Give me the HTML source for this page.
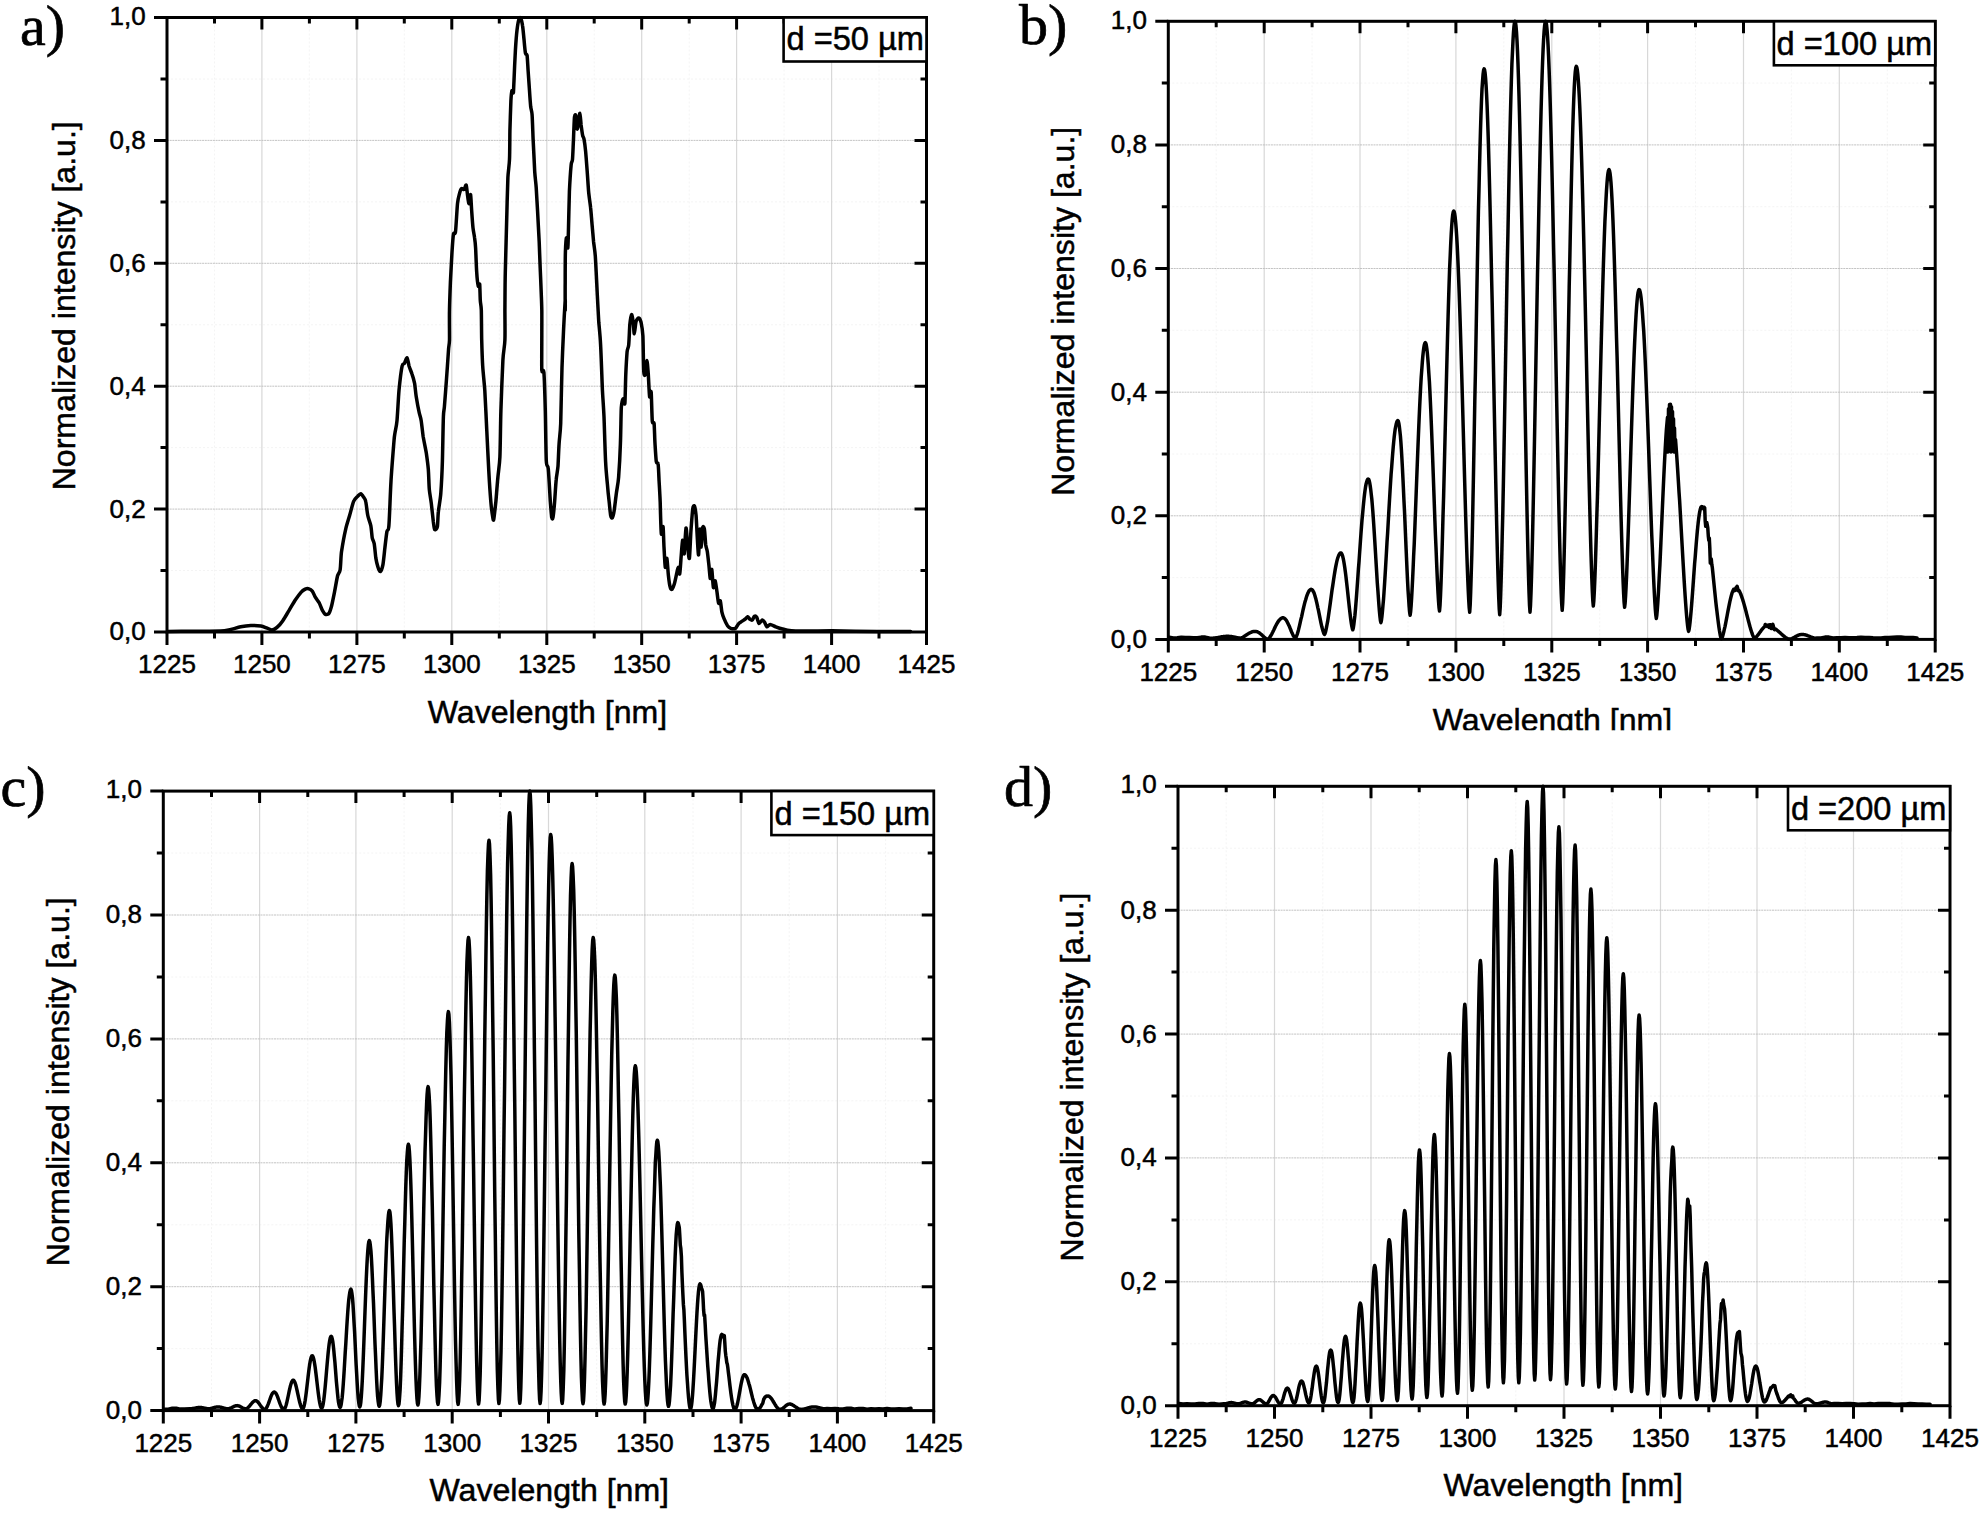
<!DOCTYPE html>
<html lang="en"><head><meta charset="utf-8"><title>Normalized intensity spectra</title>
<style>html,body{margin:0;padding:0;background:#fff}body{width:1983px;height:1514px;overflow:hidden}svg{display:block}</style>
</head><body>
<svg width="1983" height="1514" viewBox="0 0 1983 1514">
<rect width="1983" height="1514" fill="#fff"/>
<defs><clipPath id="clipb"><rect x="1000" y="690" width="983" height="40.2"/></clipPath></defs>
<g id="panel-a">
<path d="M214.5 17.5V632.0M309.4 17.5V632.0M404.3 17.5V632.0M499.3 17.5V632.0M594.2 17.5V632.0M689.2 17.5V632.0M784.1 17.5V632.0M879.0 17.5V632.0M167.0 570.5H926.5M167.0 447.6H926.5M167.0 324.8H926.5M167.0 201.9H926.5M167.0 79.0H926.5" stroke="#f3f3f3" stroke-width="0.9" stroke-dasharray="2 2" fill="none"/>
<path d="M261.9 17.5V632.0M356.9 17.5V632.0M451.8 17.5V632.0M546.8 17.5V632.0M641.7 17.5V632.0M736.6 17.5V632.0M831.6 17.5V632.0" stroke="#d8d8d8" stroke-width="1.2" fill="none"/>
<path d="M167.0 509.1H926.5M167.0 386.2H926.5M167.0 263.3H926.5M167.0 140.4H926.5" stroke="#bcbcbc" stroke-width="0.9" stroke-dasharray="2 0.7" fill="none"/>
<path d="M168.1 631.5C171.0 631.5 183.4 631.3 190.3 631.3C197.1 631.2 215.3 631.3 220.5 631.1C225.8 630.8 228.0 630.0 230.6 629.5C233.2 628.9 238.1 627.3 240.7 626.8C243.3 626.3 248.1 625.7 250.8 625.6C253.4 625.5 258.8 625.7 260.9 626.0C263.0 626.3 265.5 627.5 266.9 628.0C268.4 628.6 270.6 630.1 272.0 630.1C273.3 630.0 275.6 628.7 277.0 627.4C278.4 626.2 281.5 622.6 283.0 620.4C284.6 618.2 287.5 612.9 289.1 610.3C290.7 607.7 293.6 602.6 295.1 600.2C296.7 597.9 299.9 593.6 301.2 592.1C302.5 590.7 304.3 589.6 305.2 589.1C306.2 588.7 307.3 588.5 308.3 588.7C309.2 589.0 311.4 590.0 312.3 591.1C313.2 592.2 314.4 595.6 315.3 597.2C316.2 598.8 318.4 601.5 319.4 603.2C320.3 604.9 321.6 608.9 322.4 610.3C323.2 611.7 324.5 613.9 325.4 614.3C326.3 614.7 328.3 614.4 329.0 613.3C329.8 612.3 330.7 609.0 331.5 606.3C332.2 603.5 333.7 596.1 334.5 592.1C335.3 588.2 336.8 578.9 337.5 576.0C338.2 573.1 339.6 573.1 340.1 570.0C340.7 566.8 340.8 557.0 341.5 551.8C342.3 546.6 344.5 534.3 345.6 529.6C346.6 524.9 348.6 519.2 349.6 515.5C350.7 511.8 352.6 503.9 353.6 501.4C354.7 498.9 356.8 497.3 357.7 496.3C358.6 495.3 359.9 493.6 360.7 493.7C361.5 493.8 363.1 496.3 363.7 497.3C364.4 498.3 365.2 499.0 365.7 501.4C366.3 503.7 367.1 512.3 367.8 515.5C368.4 518.6 370.2 522.7 370.8 525.6C371.4 528.5 371.8 535.3 372.2 537.7C372.6 540.0 373.7 541.1 374.2 543.7C374.7 546.4 375.4 554.8 375.8 557.9C376.3 560.9 377.3 565.1 377.9 566.9C378.4 568.7 379.6 571.8 380.3 571.6C380.9 571.3 382.3 568.0 382.9 564.9C383.5 561.8 384.4 552.1 384.9 547.8C385.4 543.4 386.4 534.5 386.9 531.6C387.5 528.7 388.4 532.1 388.9 525.6C389.5 519.0 390.3 492.2 391.0 481.2C391.6 470.2 393.5 447.2 394.0 440.9C394.5 434.6 394.6 435.4 395.0 432.8C395.4 430.2 396.5 426.2 397.0 420.7C397.5 415.2 398.4 397.5 399.0 390.4C399.7 383.3 401.3 369.8 402.1 366.2C402.8 362.7 403.8 364.3 404.5 363.2C405.1 362.1 406.5 357.4 407.1 357.8C407.7 358.1 408.5 364.1 409.1 366.2C409.8 368.4 411.4 372.1 412.1 374.3C412.9 376.5 414.0 380.5 414.6 383.4C415.1 386.3 415.6 392.7 416.2 396.5C416.8 400.3 418.5 409.5 419.2 412.6C419.9 415.8 420.7 417.5 421.2 420.7C421.7 423.8 422.6 432.6 423.2 436.8C423.9 441.0 425.6 448.8 426.3 453.0C426.9 457.2 427.9 464.4 428.3 469.1C428.7 473.8 428.9 484.8 429.3 489.3C429.7 493.7 430.8 499.2 431.3 503.4C431.8 507.6 432.9 518.1 433.3 521.5C433.8 525.0 434.2 529.0 434.7 529.6C435.3 530.3 436.9 528.9 437.4 526.6C437.8 524.2 437.9 515.8 438.4 511.5C438.8 507.1 440.3 499.9 440.8 493.3C441.3 486.7 442.1 471.0 442.4 461.0C442.7 451.1 443.1 423.7 443.4 416.7C443.7 409.6 444.0 411.3 444.4 406.6C444.8 401.8 445.9 387.7 446.4 380.3C447.0 373.0 448.1 355.3 448.5 350.1C448.8 344.8 449.3 345.2 449.5 340.0C449.6 334.8 449.3 317.4 449.5 309.9C449.6 302.5 450.1 289.8 450.4 282.3C450.8 274.8 451.6 258.4 452.0 252.1C452.4 245.8 453.0 236.5 453.5 233.9C453.9 231.3 454.9 235.8 455.5 231.9C456.0 228.0 457.0 208.6 457.5 203.6C458.0 198.7 459.0 195.5 459.5 193.6C460.0 191.6 460.9 189.0 461.5 188.5C462.1 188.0 463.5 190.0 464.1 189.5C464.7 189.1 465.7 184.3 466.2 185.1C466.6 185.9 467.2 193.2 467.6 195.6C467.9 198.0 468.6 203.8 469.0 203.6C469.4 203.5 470.3 193.8 470.6 194.6C470.9 195.4 471.3 205.4 471.6 209.7C471.9 214.0 472.6 224.2 473.0 227.9C473.4 231.5 474.3 235.3 474.6 237.9C475.0 240.6 475.4 243.6 475.6 248.0C475.9 252.5 476.3 267.2 476.7 272.2C477.0 277.2 477.9 284.8 478.3 286.3C478.7 287.9 479.4 282.5 479.7 284.3C479.9 286.2 480.1 297.1 480.3 300.5C480.5 303.8 481.1 304.8 481.3 309.9C481.5 315.1 481.5 332.7 481.7 340.0C481.9 347.3 482.3 359.7 482.7 366.2C483.1 372.8 484.2 382.0 484.8 390.4C485.3 398.8 486.3 420.3 486.8 430.8C487.3 441.3 488.3 461.9 488.8 471.1C489.3 480.3 490.3 495.3 490.8 501.4C491.3 507.4 492.4 515.2 492.8 517.5C493.2 519.8 493.4 521.2 493.8 519.1C494.2 517.0 495.3 506.8 495.9 501.4C496.4 495.9 497.3 482.9 497.9 477.2C498.4 471.4 499.5 465.6 499.9 457.0C500.3 448.3 500.5 423.2 500.9 410.6C501.3 398.0 502.4 369.3 502.9 360.2C503.4 351.0 504.7 346.5 504.9 340.0C505.2 333.5 504.9 318.8 504.9 309.9C505.0 301.1 505.0 285.0 505.3 272.2C505.6 259.5 506.6 224.0 506.9 211.7C507.2 199.4 507.6 184.2 507.9 177.4C508.3 170.6 509.3 165.3 509.5 159.3C509.8 153.2 509.8 138.6 509.9 131.0C510.1 123.4 510.7 106.0 510.9 100.8C511.2 95.5 511.6 91.7 512.0 90.7C512.3 89.6 513.1 94.0 513.4 92.7C513.6 91.4 513.7 86.1 514.0 80.6C514.2 75.1 515.0 56.9 515.4 50.3C515.8 43.8 516.5 34.2 517.0 30.2C517.5 26.1 518.5 20.7 519.0 19.1C519.5 17.5 520.2 17.2 520.6 18.1C521.1 19.0 522.2 23.3 522.6 26.1C523.1 29.0 523.7 36.7 524.1 40.3C524.4 43.8 525.1 51.4 525.5 53.4C525.9 55.3 526.7 53.2 527.1 55.4C527.4 57.6 527.8 65.9 528.1 70.5C528.4 75.1 529.2 86.0 529.5 90.7C529.8 95.4 530.4 103.7 530.7 106.8C531.1 110.0 531.8 110.7 532.1 114.9C532.4 119.1 532.8 131.8 533.1 139.1C533.5 146.4 534.4 165.1 534.7 171.4C535.1 177.7 535.8 182.3 536.2 187.5C536.5 192.8 537.2 204.6 537.6 211.7C538.0 218.8 538.8 234.6 539.2 242.0C539.5 249.3 539.9 261.6 540.2 268.2C540.5 274.8 541.0 287.0 541.2 292.4C541.4 297.8 541.7 303.8 541.8 309.9C541.9 316.1 541.8 332.2 541.8 340.0C541.8 347.8 541.6 366.1 541.8 370.3C542.1 374.5 543.4 367.0 543.9 372.3C544.3 377.5 545.0 399.1 545.3 410.6C545.6 422.1 545.9 453.4 546.3 461.0C546.7 468.6 547.8 463.9 548.3 469.1C548.8 474.3 549.9 495.1 550.3 501.4C550.8 507.7 551.4 515.4 551.7 517.5C552.1 519.6 552.7 519.4 553.0 517.4C553.4 515.4 554.2 507.0 554.6 502.1C555.0 497.2 555.7 484.3 556.2 479.7C556.6 475.0 557.6 470.9 558.0 466.2C558.3 461.5 558.7 449.3 559.1 443.7C559.4 438.2 560.3 433.5 560.7 423.5C561.0 413.6 561.6 379.6 562.0 367.4C562.4 355.1 563.2 338.0 563.6 329.2C564.0 320.4 565.0 302.5 565.2 300.0C565.4 297.5 565.2 312.2 565.2 309.9C565.2 307.7 565.1 289.8 565.2 282.3C565.2 274.8 565.2 257.8 565.4 252.1C565.6 246.3 566.1 238.5 566.4 237.9C566.7 237.4 567.6 248.8 567.8 248.0C568.1 247.2 568.2 239.2 568.4 231.9C568.6 224.5 569.1 200.2 569.4 191.5C569.8 182.9 570.7 169.5 571.1 165.3C571.4 161.1 572.2 162.7 572.5 159.3C572.8 155.9 573.2 144.6 573.5 139.1C573.7 133.6 574.2 119.9 574.5 116.9C574.8 113.9 575.6 114.3 575.9 115.9C576.2 117.5 576.8 128.1 577.1 129.0C577.4 129.9 578.2 125.0 578.5 123.0C578.9 120.9 579.6 113.0 579.9 113.3C580.3 113.5 580.8 122.1 581.1 125.0C581.5 127.8 582.2 133.2 582.6 135.1C582.9 136.9 583.6 137.0 584.0 139.1C584.4 141.2 585.2 147.0 585.6 151.2C586.0 155.4 586.8 166.1 587.2 171.4C587.6 176.6 588.2 186.8 588.6 191.5C589.0 196.3 590.2 203.5 590.6 207.7C591.1 211.9 591.6 219.4 592.0 223.8C592.4 228.3 593.2 237.8 593.6 242.0C594.1 246.2 594.9 250.8 595.3 256.1C595.7 261.3 596.3 275.3 596.7 282.3C597.0 289.3 597.8 304.7 598.1 309.9C598.4 315.2 598.5 317.9 598.8 322.5C599.2 327.0 600.2 336.2 600.6 344.9C601.1 353.7 602.0 380.5 602.4 389.8C602.9 399.2 603.6 407.4 604.0 416.8C604.4 426.1 605.1 452.9 605.6 461.7C606.0 470.5 606.9 478.9 607.4 484.2C607.8 489.4 608.7 498.0 609.2 502.1C609.6 506.2 610.3 513.6 610.7 515.6C611.2 517.7 611.9 518.4 612.3 517.9C612.8 517.3 613.6 514.3 614.1 511.1C614.6 507.9 615.8 497.5 616.4 493.1C616.9 488.8 618.1 483.9 618.6 477.4C619.1 471.0 620.1 452.8 620.4 443.7C620.8 434.7 621.0 413.6 621.3 407.8C621.7 402.0 622.6 399.4 623.1 398.8C623.6 398.2 624.5 406.5 624.9 403.3C625.2 400.1 625.5 380.8 625.8 374.1C626.1 367.4 626.8 355.5 627.1 351.7C627.5 347.9 628.4 348.4 628.7 344.9C629.1 341.4 629.5 328.6 629.8 324.7C630.2 320.8 631.2 314.9 631.6 314.6C632.1 314.3 632.9 320.0 633.2 322.5C633.6 324.9 633.9 333.8 634.3 333.7C634.7 333.5 635.5 323.4 636.1 321.3C636.7 319.3 638.2 317.8 638.8 318.0C639.5 318.1 640.5 320.1 641.1 322.5C641.6 324.8 642.5 329.5 642.9 335.9C643.2 342.4 643.4 366.9 643.8 371.9C644.1 376.8 645.1 375.6 645.6 374.1C646.0 372.7 646.6 360.6 646.9 360.6C647.3 360.6 647.9 369.4 648.3 374.1C648.6 378.8 649.2 394.2 649.6 396.6C650.0 398.9 650.8 388.9 651.2 392.1C651.5 395.3 651.9 417.2 652.3 421.3C652.7 425.4 653.7 420.6 654.1 423.5C654.4 426.4 654.7 438.8 655.0 443.7C655.3 448.7 655.9 459.1 656.3 461.7C656.7 464.3 657.8 461.6 658.1 464.0C658.5 466.3 658.8 474.7 659.0 479.7C659.3 484.6 659.9 495.1 660.2 502.1C660.4 509.1 660.9 530.4 661.3 533.6C661.7 536.8 662.7 525.1 663.1 526.8C663.4 528.6 663.7 541.8 664.0 547.1C664.3 552.3 664.9 565.8 665.3 567.3C665.7 568.7 666.5 557.1 666.9 558.3C667.3 559.4 668.0 572.5 668.5 576.2C668.9 580.0 669.8 585.8 670.3 587.5C670.7 589.2 671.5 589.7 672.1 589.3C672.6 588.8 673.7 586.1 674.3 584.1C674.9 582.1 676.1 576.2 676.6 574.0C677.0 571.8 677.7 567.3 678.1 567.3C678.5 567.3 679.3 575.2 679.7 574.0C680.1 572.8 680.7 562.7 681.0 558.3C681.4 553.9 682.2 540.9 682.6 540.3C683.0 539.7 683.8 555.4 684.2 553.8C684.6 552.2 685.5 528.8 686.0 528.0C686.5 527.1 687.3 543.1 687.8 547.1C688.2 551.0 688.9 560.3 689.4 558.3C689.8 556.2 690.5 537.8 690.9 531.3C691.4 524.9 692.3 512.1 692.7 508.9C693.2 505.6 694.1 505.3 694.5 506.2C695.0 507.1 695.7 511.8 696.1 515.6C696.4 519.5 696.9 530.7 697.2 535.8C697.5 540.9 698.2 555.8 698.6 554.9C698.9 554.0 699.6 530.1 699.9 529.1C700.3 528.1 700.9 547.2 701.3 547.1C701.6 546.9 702.2 530.3 702.6 528.0C703.0 525.6 704.0 526.9 704.4 529.1C704.8 531.3 705.4 541.9 705.7 544.8C706.1 547.7 706.9 548.9 707.3 551.5C707.7 554.2 708.5 561.5 708.9 565.0C709.3 568.5 709.9 577.9 710.2 578.5C710.6 579.1 711.4 568.3 711.8 569.5C712.2 570.7 712.9 586.0 713.4 587.5C713.8 588.9 714.7 580.2 715.2 580.7C715.6 581.3 716.5 589.1 717.0 592.0C717.4 594.9 718.1 602.0 718.6 603.2C719.0 604.4 719.9 599.8 720.3 601.0C720.8 602.1 721.4 609.8 721.9 612.2C722.4 614.5 723.4 617.2 724.2 618.9C724.9 620.7 726.7 624.4 727.5 625.7C728.4 626.9 729.9 628.0 730.9 628.4C731.9 628.7 734.4 629.0 735.4 628.4C736.4 627.7 737.9 624.3 738.8 623.4C739.6 622.5 741.3 621.8 742.1 621.2C743.0 620.6 744.8 619.5 745.5 618.9C746.2 618.3 747.2 616.6 747.7 616.7C748.3 616.7 749.4 618.9 750.0 619.4C750.6 619.8 751.7 620.5 752.2 620.0C752.8 619.6 753.9 616.6 754.5 616.2C755.1 615.8 756.1 616.2 756.7 617.1C757.3 618.1 758.2 623.0 759.0 623.4C759.7 623.8 761.6 620.2 762.3 620.0C763.1 619.9 764.0 621.4 764.6 622.3C765.2 623.2 766.1 626.5 766.8 626.8C767.6 627.1 769.0 624.5 770.2 624.5C771.4 624.5 774.2 626.2 775.8 626.8C777.4 627.4 780.5 628.5 782.6 629.0C784.6 629.6 788.0 630.6 791.5 630.8C795.0 631.1 804.3 631.0 809.5 631.0C814.8 631.0 823.2 630.8 832.0 630.8C840.7 630.9 866.7 631.4 876.9 631.5C887.1 631.6 906.2 631.5 910.6 631.5" stroke="#000" stroke-width="3.5" fill="none" stroke-linejoin="round" stroke-linecap="round"/>
<rect x="167.0" y="17.5" width="759.5" height="614.5" fill="none" stroke="#000" stroke-width="3"/>
<path d="M167.0 632.0v13.0M214.5 632.0v6.5M214.5 17.5v6.0M261.9 632.0v13.0M261.9 17.5v12.0M309.4 632.0v6.5M309.4 17.5v6.0M356.9 632.0v13.0M356.9 17.5v12.0M404.3 632.0v6.5M404.3 17.5v6.0M451.8 632.0v13.0M451.8 17.5v12.0M499.3 632.0v6.5M499.3 17.5v6.0M546.8 632.0v13.0M546.8 17.5v12.0M594.2 632.0v6.5M594.2 17.5v6.0M641.7 632.0v13.0M641.7 17.5v12.0M689.2 632.0v6.5M689.2 17.5v6.0M736.6 632.0v13.0M736.6 17.5v12.0M784.1 632.0v6.5M784.1 17.5v6.0M831.6 632.0v13.0M831.6 17.5v12.0M879.0 632.0v6.5M879.0 17.5v6.0M926.5 632.0v13.0M167.0 632.0h-13.0M167.0 570.5h-6.5M926.5 570.5h-6.0M167.0 509.1h-13.0M926.5 509.1h-12.0M167.0 447.6h-6.5M926.5 447.6h-6.0M167.0 386.2h-13.0M926.5 386.2h-12.0M167.0 324.8h-6.5M926.5 324.8h-6.0M167.0 263.3h-13.0M926.5 263.3h-12.0M167.0 201.9h-6.5M926.5 201.9h-6.0M167.0 140.4h-13.0M926.5 140.4h-12.0M167.0 79.0h-6.5M926.5 79.0h-6.0M167.0 17.5h-13.0" stroke="#000" stroke-width="3" fill="none"/>
<text x="167.0" y="673.3" font-family="Liberation Sans, Arial, sans-serif" stroke="#000" stroke-width="0.5" font-size="26.0" text-anchor="middle" fill="#000">1225</text>
<text x="261.9" y="673.3" font-family="Liberation Sans, Arial, sans-serif" stroke="#000" stroke-width="0.5" font-size="26.0" text-anchor="middle" fill="#000">1250</text>
<text x="356.9" y="673.3" font-family="Liberation Sans, Arial, sans-serif" stroke="#000" stroke-width="0.5" font-size="26.0" text-anchor="middle" fill="#000">1275</text>
<text x="451.8" y="673.3" font-family="Liberation Sans, Arial, sans-serif" stroke="#000" stroke-width="0.5" font-size="26.0" text-anchor="middle" fill="#000">1300</text>
<text x="546.8" y="673.3" font-family="Liberation Sans, Arial, sans-serif" stroke="#000" stroke-width="0.5" font-size="26.0" text-anchor="middle" fill="#000">1325</text>
<text x="641.7" y="673.3" font-family="Liberation Sans, Arial, sans-serif" stroke="#000" stroke-width="0.5" font-size="26.0" text-anchor="middle" fill="#000">1350</text>
<text x="736.6" y="673.3" font-family="Liberation Sans, Arial, sans-serif" stroke="#000" stroke-width="0.5" font-size="26.0" text-anchor="middle" fill="#000">1375</text>
<text x="831.6" y="673.3" font-family="Liberation Sans, Arial, sans-serif" stroke="#000" stroke-width="0.5" font-size="26.0" text-anchor="middle" fill="#000">1400</text>
<text x="926.5" y="673.3" font-family="Liberation Sans, Arial, sans-serif" stroke="#000" stroke-width="0.5" font-size="26.0" text-anchor="middle" fill="#000">1425</text>
<text x="145.7" y="640.4" font-family="Liberation Sans, Arial, sans-serif" stroke="#000" stroke-width="0.5" font-size="26.0" text-anchor="end" fill="#000">0,0</text>
<text x="145.7" y="517.5" font-family="Liberation Sans, Arial, sans-serif" stroke="#000" stroke-width="0.5" font-size="26.0" text-anchor="end" fill="#000">0,2</text>
<text x="145.7" y="394.6" font-family="Liberation Sans, Arial, sans-serif" stroke="#000" stroke-width="0.5" font-size="26.0" text-anchor="end" fill="#000">0,4</text>
<text x="145.7" y="271.7" font-family="Liberation Sans, Arial, sans-serif" stroke="#000" stroke-width="0.5" font-size="26.0" text-anchor="end" fill="#000">0,6</text>
<text x="145.7" y="148.8" font-family="Liberation Sans, Arial, sans-serif" stroke="#000" stroke-width="0.5" font-size="26.0" text-anchor="end" fill="#000">0,8</text>
<text x="145.7" y="25.1" font-family="Liberation Sans, Arial, sans-serif" stroke="#000" stroke-width="0.5" font-size="26.0" text-anchor="end" fill="#000">1,0</text>
<text x="547.5" y="722.5" font-family="Liberation Sans, Arial, sans-serif" stroke="#000" stroke-width="0.5" font-size="32.1" text-anchor="middle" fill="#000">Wavelength [nm]</text>
<text transform="translate(74.5 305.8) rotate(-90)" font-family="Liberation Sans, Arial, sans-serif" stroke="#000" stroke-width="0.5" font-size="32.1" text-anchor="middle" fill="#000">Normalized intensity [a.u.]</text>
<rect x="783.6" y="17.5" width="142.9" height="44.0" fill="#fff" stroke="#000" stroke-width="2.6"/>
<text x="923.9" y="49.9" font-family="Liberation Sans, Arial, sans-serif" stroke="#000" stroke-width="0.5" font-size="32.6" text-anchor="end" fill="#000">d =50 µm</text>
<text x="20.0" y="45.0" font-family="Liberation Serif, Times New Roman, serif" stroke="#000" stroke-width="0.7" stroke-linejoin="round" font-size="58" fill="#000">a)</text>
</g>
<g id="panel-b">
<path d="M1216.2 21.3V639.4M1312.1 21.3V639.4M1408.0 21.3V639.4M1503.8 21.3V639.4M1599.7 21.3V639.4M1695.5 21.3V639.4M1791.4 21.3V639.4M1887.3 21.3V639.4M1168.3 577.6H1935.2M1168.3 454.0H1935.2M1168.3 330.3H1935.2M1168.3 206.7H1935.2M1168.3 83.1H1935.2" stroke="#f3f3f3" stroke-width="0.9" stroke-dasharray="2 2" fill="none"/>
<path d="M1264.2 21.3V639.4M1360.0 21.3V639.4M1455.9 21.3V639.4M1551.8 21.3V639.4M1647.6 21.3V639.4M1743.5 21.3V639.4M1839.3 21.3V639.4" stroke="#d8d8d8" stroke-width="1.2" fill="none"/>
<path d="M1168.3 515.8H1935.2M1168.3 392.2H1935.2M1168.3 268.5H1935.2M1168.3 144.9H1935.2" stroke="#bcbcbc" stroke-width="0.9" stroke-dasharray="2 0.7" fill="none"/>
<path d="M1169.3 637.2 L1173.3 637.9 L1177.3 637.8 L1181.3 637.3 L1185.3 637.5 L1189.3 637.5 L1193.3 637.7 L1197.3 637.8 L1201.3 637.1 L1205.3 637.1 L1209.3 637.9 L1213.0 638.2 L1213.5 638.1 L1214.0 638.1 L1214.5 638.0 L1215.0 638.0 L1215.5 637.9 L1216.0 637.8 L1216.5 637.7 L1217.1 637.7 L1217.6 637.6 L1218.1 637.5 L1218.6 637.4 L1219.1 637.3 L1219.6 637.2 L1220.1 637.1 L1220.6 637.0 L1221.1 636.9 L1221.6 636.8 L1222.1 636.8 L1222.6 636.7 L1223.1 636.6 L1223.6 636.6 L1224.2 636.5 L1224.7 636.5 L1225.2 636.4 L1225.7 636.4 L1226.2 636.3 L1226.7 636.3 L1227.2 636.3 L1227.7 636.3 L1228.2 636.3 L1228.7 636.3 L1229.2 636.4 L1229.7 636.4 L1230.2 636.4 L1230.7 636.5 L1231.2 636.6 L1231.7 636.6 L1232.2 636.7 L1232.7 636.8 L1233.2 636.9 L1233.7 637.0 L1234.3 637.1 L1234.8 637.2 L1235.3 637.3 L1235.8 637.4 L1236.3 637.5 L1236.8 637.6 L1237.3 637.7 L1237.8 637.8 L1238.3 637.9 L1238.8 638.0 L1239.3 638.1 L1239.8 638.1 L1240.3 638.2 L1240.8 638.1 L1241.3 637.9 L1241.8 637.7 L1242.3 637.5 L1242.9 637.2 L1243.4 636.9 L1243.9 636.6 L1244.4 636.3 L1244.9 636.0 L1245.4 635.6 L1245.9 635.3 L1246.4 635.0 L1246.9 634.6 L1247.4 634.3 L1248.0 634.0 L1248.5 633.6 L1249.0 633.3 L1249.5 633.0 L1250.0 632.8 L1250.5 632.5 L1251.0 632.3 L1251.5 632.1 L1252.0 631.9 L1252.5 631.7 L1253.1 631.6 L1253.6 631.5 L1254.1 631.4 L1254.6 631.4 L1255.1 631.4 L1255.6 631.4 L1256.1 631.5 L1256.6 631.6 L1257.1 631.7 L1257.6 631.9 L1258.1 632.2 L1258.7 632.5 L1259.2 632.8 L1259.7 633.2 L1260.2 633.6 L1260.7 634.0 L1261.2 634.4 L1261.7 634.8 L1262.2 635.3 L1262.7 635.8 L1263.2 636.2 L1263.7 636.7 L1264.2 637.2 L1264.8 637.6 L1265.3 638.0 L1265.8 638.4 L1266.3 638.7 L1266.8 639.0 L1267.3 639.1 L1267.8 639.1 L1268.3 639.1 L1268.8 638.7 L1269.3 638.1 L1269.8 637.3 L1270.3 636.6 L1270.8 635.7 L1271.3 634.8 L1271.9 633.8 L1272.4 632.8 L1272.9 631.8 L1273.4 630.7 L1273.9 629.7 L1274.4 628.6 L1274.9 627.6 L1275.4 626.5 L1275.9 625.5 L1276.4 624.6 L1276.9 623.7 L1277.4 622.8 L1277.9 622.0 L1278.4 621.2 L1278.9 620.5 L1279.5 619.9 L1280.0 619.3 L1280.5 618.9 L1281.0 618.5 L1281.5 618.2 L1282.0 617.9 L1282.5 617.8 L1283.0 617.8 L1283.5 617.8 L1284.0 618.0 L1284.5 618.4 L1285.0 618.8 L1285.6 619.4 L1286.1 620.1 L1286.6 620.8 L1287.1 621.7 L1287.6 622.7 L1288.1 623.8 L1288.6 624.9 L1289.2 626.0 L1289.7 627.2 L1290.2 628.5 L1290.7 629.7 L1291.2 631.0 L1291.7 632.2 L1292.2 633.3 L1292.7 634.4 L1293.2 635.5 L1293.8 636.4 L1294.3 637.2 L1294.8 637.8 L1295.3 638.2 L1295.8 637.6 L1296.3 636.6 L1296.8 635.3 L1297.4 633.8 L1297.9 632.0 L1298.4 630.2 L1298.9 628.2 L1299.4 626.1 L1299.9 623.9 L1300.4 621.7 L1300.9 619.4 L1301.5 617.1 L1302.0 614.8 L1302.5 612.5 L1303.0 610.2 L1303.5 608.0 L1304.0 605.9 L1304.5 603.8 L1305.0 601.9 L1305.6 600.0 L1306.1 598.2 L1306.6 596.6 L1307.1 595.1 L1307.6 593.8 L1308.1 592.7 L1308.6 591.7 L1309.1 590.8 L1309.7 590.2 L1310.2 589.7 L1310.7 589.4 L1311.2 589.3 L1311.7 589.5 L1312.2 589.8 L1312.7 590.4 L1313.2 591.3 L1313.8 592.4 L1314.3 593.7 L1314.8 595.2 L1315.3 596.9 L1315.8 598.7 L1316.3 600.8 L1316.8 602.9 L1317.3 605.2 L1317.8 607.6 L1318.4 610.1 L1318.9 612.6 L1319.4 615.1 L1319.9 617.7 L1320.4 620.2 L1320.9 622.6 L1321.4 624.9 L1321.9 627.1 L1322.5 629.2 L1323.0 631.0 L1323.5 632.6 L1324.0 633.8 L1324.5 634.5 L1325.0 633.6 L1325.5 632.0 L1326.0 629.9 L1326.5 627.4 L1327.0 624.7 L1327.6 621.7 L1328.1 618.5 L1328.6 615.1 L1329.1 611.6 L1329.6 608.0 L1330.1 604.4 L1330.6 600.7 L1331.1 596.9 L1331.6 593.2 L1332.1 589.6 L1332.7 585.9 L1333.2 582.4 L1333.7 579.0 L1334.2 575.7 L1334.7 572.6 L1335.2 569.6 L1335.7 566.9 L1336.2 564.3 L1336.7 562.0 L1337.2 559.9 L1337.7 558.1 L1338.3 556.5 L1338.8 555.2 L1339.3 554.2 L1339.8 553.5 L1340.3 553.0 L1340.8 552.9 L1341.3 553.1 L1341.8 553.9 L1342.3 555.1 L1342.8 556.8 L1343.3 558.9 L1343.8 561.5 L1344.3 564.5 L1344.8 567.8 L1345.3 571.5 L1345.8 575.4 L1346.3 579.7 L1346.8 584.1 L1347.3 588.6 L1347.8 593.3 L1348.3 598.0 L1348.8 602.6 L1349.3 607.2 L1349.8 611.6 L1350.3 615.8 L1350.8 619.7 L1351.3 623.2 L1351.8 626.2 L1352.3 628.5 L1352.8 629.8 L1353.3 628.0 L1353.8 624.7 L1354.3 620.5 L1354.9 615.5 L1355.4 610.0 L1355.9 603.9 L1356.4 597.5 L1356.9 590.7 L1357.4 583.7 L1357.9 576.5 L1358.4 569.2 L1359.0 561.9 L1359.5 554.5 L1360.0 547.3 L1360.5 540.1 L1361.0 533.2 L1361.5 526.5 L1362.0 520.1 L1362.6 514.0 L1363.1 508.3 L1363.6 503.0 L1364.1 498.1 L1364.6 493.8 L1365.1 489.9 L1365.6 486.6 L1366.1 483.9 L1366.7 481.8 L1367.2 480.2 L1367.7 479.3 L1368.2 479.0 L1368.7 479.4 L1369.2 480.7 L1369.7 482.8 L1370.2 485.7 L1370.7 489.4 L1371.2 493.9 L1371.8 499.0 L1372.3 504.8 L1372.8 511.2 L1373.3 518.1 L1373.8 525.5 L1374.3 533.3 L1374.8 541.3 L1375.3 549.6 L1375.8 558.0 L1376.3 566.3 L1376.8 574.7 L1377.3 582.8 L1377.9 590.6 L1378.4 598.0 L1378.9 604.9 L1379.4 611.1 L1379.9 616.3 L1380.4 620.5 L1380.9 622.7 L1381.4 620.6 L1381.9 616.8 L1382.4 611.9 L1382.9 606.1 L1383.5 599.6 L1384.0 592.5 L1384.5 584.9 L1385.0 576.9 L1385.5 568.6 L1386.0 560.0 L1386.5 551.3 L1387.0 542.4 L1387.6 533.4 L1388.1 524.5 L1388.6 515.6 L1389.1 506.8 L1389.6 498.3 L1390.1 489.9 L1390.6 481.9 L1391.1 474.1 L1391.7 466.8 L1392.2 459.8 L1392.7 453.3 L1393.2 447.4 L1393.7 441.9 L1394.2 437.0 L1394.7 432.7 L1395.2 429.1 L1395.8 426.0 L1396.3 423.7 L1396.8 422.0 L1397.3 420.9 L1397.8 420.6 L1398.3 421.2 L1398.8 423.1 L1399.3 426.2 L1399.8 430.5 L1400.4 435.9 L1400.9 442.4 L1401.4 449.9 L1401.9 458.4 L1402.4 467.7 L1402.9 477.7 L1403.4 488.4 L1403.9 499.5 L1404.5 511.1 L1405.0 522.8 L1405.5 534.7 L1406.0 546.5 L1406.5 558.0 L1407.0 569.2 L1407.5 579.8 L1408.0 589.7 L1408.6 598.5 L1409.1 606.1 L1409.6 612.0 L1410.1 615.3 L1410.6 612.0 L1411.1 606.1 L1411.6 598.4 L1412.1 589.5 L1412.6 579.4 L1413.1 568.5 L1413.6 556.8 L1414.2 544.6 L1414.7 531.9 L1415.2 518.9 L1415.7 505.7 L1416.2 492.5 L1416.7 479.2 L1417.2 466.1 L1417.7 453.2 L1418.2 440.7 L1418.7 428.5 L1419.2 416.9 L1419.7 405.9 L1420.2 395.6 L1420.7 386.0 L1421.2 377.3 L1421.8 369.4 L1422.3 362.5 L1422.8 356.5 L1423.3 351.6 L1423.8 347.7 L1424.3 344.9 L1424.8 343.3 L1425.3 342.7 L1425.8 343.3 L1426.3 345.2 L1426.8 348.4 L1427.3 352.7 L1427.8 358.3 L1428.3 365.0 L1428.8 372.8 L1429.4 381.6 L1429.9 391.3 L1430.4 402.0 L1430.9 413.4 L1431.4 425.5 L1431.9 438.2 L1432.4 451.5 L1432.9 465.1 L1433.4 478.9 L1433.9 492.9 L1434.4 506.9 L1434.9 520.7 L1435.4 534.3 L1436.0 547.5 L1436.5 560.0 L1437.0 571.9 L1437.5 582.8 L1438.0 592.6 L1438.5 600.9 L1439.0 607.4 L1439.5 611.0 L1440.0 605.7 L1440.5 596.0 L1441.0 583.6 L1441.5 569.0 L1442.0 552.7 L1442.5 535.1 L1443.0 516.3 L1443.6 496.7 L1444.1 476.4 L1444.6 455.8 L1445.1 434.9 L1445.6 414.1 L1446.1 393.4 L1446.6 373.2 L1447.1 353.5 L1447.6 334.5 L1448.1 316.4 L1448.6 299.4 L1449.1 283.5 L1449.6 269.0 L1450.2 255.8 L1450.7 244.2 L1451.2 234.3 L1451.7 226.0 L1452.2 219.5 L1452.7 214.8 L1453.2 212.0 L1453.7 211.1 L1454.2 211.8 L1454.7 214.0 L1455.2 217.6 L1455.7 222.6 L1456.2 229.0 L1456.7 236.7 L1457.2 245.7 L1457.7 256.0 L1458.2 267.4 L1458.7 280.0 L1459.2 293.5 L1459.7 308.1 L1460.2 323.4 L1460.7 339.6 L1461.2 356.4 L1461.7 373.7 L1462.2 391.4 L1462.7 409.5 L1463.2 427.8 L1463.7 446.1 L1464.2 464.3 L1464.7 482.4 L1465.2 500.1 L1465.7 517.2 L1466.2 533.8 L1466.7 549.5 L1467.2 564.2 L1467.7 577.6 L1468.2 589.7 L1468.7 599.9 L1469.2 607.8 L1469.7 612.2 L1470.2 605.0 L1470.7 591.8 L1471.2 575.0 L1471.8 555.2 L1472.3 533.1 L1472.8 509.1 L1473.3 483.6 L1473.8 456.9 L1474.3 429.4 L1474.8 401.4 L1475.4 373.0 L1475.9 344.7 L1476.4 316.7 L1476.9 289.1 L1477.4 262.4 L1477.9 236.6 L1478.4 212.0 L1479.0 188.9 L1479.5 167.3 L1480.0 147.6 L1480.5 129.7 L1481.0 114.0 L1481.5 100.4 L1482.0 89.2 L1482.6 80.4 L1483.1 74.0 L1483.6 70.2 L1484.1 68.9 L1484.6 69.9 L1485.1 73.1 L1485.6 78.3 L1486.1 85.6 L1486.6 94.8 L1487.1 106.0 L1487.6 119.1 L1488.1 133.9 L1488.6 150.4 L1489.1 168.5 L1489.6 188.0 L1490.1 208.8 L1490.6 230.9 L1491.1 254.0 L1491.6 277.9 L1492.2 302.6 L1492.7 327.8 L1493.2 353.3 L1493.7 379.0 L1494.2 404.7 L1494.7 430.2 L1495.2 455.2 L1495.7 479.5 L1496.2 503.0 L1496.7 525.3 L1497.2 546.2 L1497.7 565.4 L1498.2 582.5 L1498.7 597.1 L1499.2 608.5 L1499.7 614.7 L1500.2 607.6 L1500.7 594.6 L1501.2 578.0 L1501.7 558.4 L1502.2 536.5 L1502.8 512.7 L1503.3 487.4 L1503.8 460.8 L1504.3 433.2 L1504.8 404.9 L1505.3 376.2 L1505.8 347.3 L1506.3 318.4 L1506.8 289.9 L1507.3 261.9 L1507.9 234.5 L1508.4 208.2 L1508.9 182.9 L1509.4 158.9 L1509.9 136.5 L1510.4 115.6 L1510.9 96.6 L1511.4 79.4 L1511.9 64.3 L1512.5 51.4 L1513.0 40.6 L1513.5 32.2 L1514.0 26.2 L1514.5 22.5 L1515.0 21.3 L1515.5 22.5 L1516.0 26.1 L1516.5 32.2 L1517.0 40.6 L1517.5 51.2 L1518.0 64.1 L1518.5 79.2 L1519.0 96.2 L1519.5 115.2 L1520.0 136.0 L1520.5 158.4 L1521.0 182.2 L1521.5 207.4 L1522.0 233.7 L1522.5 260.9 L1523.0 288.8 L1523.5 317.2 L1524.0 345.9 L1524.5 374.7 L1525.0 403.3 L1525.5 431.5 L1526.0 458.9 L1526.5 485.4 L1527.0 510.7 L1527.5 534.4 L1528.0 556.2 L1528.5 575.6 L1529.0 592.2 L1529.5 605.1 L1530.0 612.2 L1530.5 605.5 L1531.0 593.2 L1531.5 577.4 L1532.0 558.8 L1532.5 538.1 L1533.0 515.4 L1533.5 491.3 L1534.0 465.9 L1534.5 439.5 L1535.0 412.4 L1535.5 384.9 L1536.0 357.1 L1536.5 329.2 L1537.0 301.6 L1537.5 274.3 L1538.1 247.6 L1538.6 221.7 L1539.1 196.7 L1539.6 172.8 L1540.1 150.2 L1540.6 129.1 L1541.1 109.5 L1541.6 91.7 L1542.1 75.6 L1542.6 61.5 L1543.1 49.4 L1543.6 39.4 L1544.1 31.5 L1544.6 25.8 L1545.1 22.4 L1545.6 21.3 L1546.1 22.3 L1546.6 25.3 L1547.1 30.3 L1547.6 37.2 L1548.1 46.0 L1548.6 56.7 L1549.1 69.2 L1549.6 83.4 L1550.1 99.3 L1550.6 116.7 L1551.1 135.6 L1551.6 155.8 L1552.1 177.3 L1552.6 199.8 L1553.1 223.3 L1553.6 247.7 L1554.2 272.7 L1554.7 298.2 L1555.2 324.1 L1555.7 350.1 L1556.2 376.2 L1556.7 402.1 L1557.2 427.6 L1557.7 452.6 L1558.2 476.9 L1558.7 500.2 L1559.2 522.3 L1559.7 542.9 L1560.2 561.9 L1560.7 578.7 L1561.2 593.1 L1561.7 604.2 L1562.2 610.3 L1562.7 603.1 L1563.2 590.0 L1563.7 573.1 L1564.2 553.3 L1564.7 531.1 L1565.2 507.1 L1565.7 481.6 L1566.2 454.9 L1566.7 427.4 L1567.2 399.3 L1567.7 370.9 L1568.2 342.6 L1568.7 314.5 L1569.2 286.9 L1569.8 260.1 L1570.3 234.3 L1570.8 209.7 L1571.3 186.6 L1571.8 165.0 L1572.3 145.2 L1572.8 127.3 L1573.3 111.6 L1573.8 98.0 L1574.3 86.7 L1574.8 77.9 L1575.3 71.5 L1575.8 67.7 L1576.3 66.4 L1576.8 67.3 L1577.3 69.9 L1577.8 74.2 L1578.3 80.1 L1578.8 87.8 L1579.3 97.0 L1579.8 107.8 L1580.3 120.1 L1580.8 133.9 L1581.3 149.0 L1581.8 165.4 L1582.3 183.0 L1582.8 201.7 L1583.3 221.3 L1583.8 241.9 L1584.3 263.2 L1584.8 285.2 L1585.3 307.6 L1585.8 330.5 L1586.3 353.6 L1586.8 376.8 L1587.3 399.9 L1587.8 422.9 L1588.3 445.4 L1588.8 467.5 L1589.3 488.9 L1589.8 509.4 L1590.3 528.8 L1590.8 546.9 L1591.3 563.5 L1591.8 578.3 L1592.3 590.9 L1592.8 600.7 L1593.3 606.0 L1593.8 601.0 L1594.3 592.0 L1594.8 580.3 L1595.3 566.6 L1595.8 551.3 L1596.3 534.5 L1596.8 516.7 L1597.4 498.0 L1597.9 478.5 L1598.4 458.5 L1598.9 438.1 L1599.4 417.6 L1599.9 397.0 L1600.4 376.6 L1600.9 356.5 L1601.4 336.8 L1601.9 317.6 L1602.4 299.2 L1602.9 281.5 L1603.4 264.9 L1603.9 249.3 L1604.4 234.8 L1604.9 221.6 L1605.5 209.7 L1606.0 199.3 L1606.5 190.4 L1607.0 183.0 L1607.5 177.2 L1608.0 173.0 L1608.5 170.5 L1609.0 169.6 L1609.5 170.5 L1610.0 173.0 L1610.5 177.2 L1611.0 183.0 L1611.5 190.4 L1612.0 199.4 L1612.5 209.9 L1613.0 221.7 L1613.5 235.0 L1614.0 249.5 L1614.5 265.1 L1615.0 281.9 L1615.5 299.5 L1616.0 318.0 L1616.5 337.2 L1617.1 357.0 L1617.6 377.2 L1618.1 397.7 L1618.6 418.3 L1619.1 438.9 L1619.6 459.3 L1620.1 479.4 L1620.6 498.9 L1621.1 517.7 L1621.6 535.6 L1622.1 552.3 L1622.6 567.7 L1623.1 581.5 L1623.6 593.2 L1624.1 602.3 L1624.6 607.3 L1625.1 603.3 L1625.6 596.0 L1626.1 586.6 L1626.6 575.6 L1627.1 563.3 L1627.6 549.9 L1628.1 535.7 L1628.6 520.8 L1629.1 505.4 L1629.6 489.7 L1630.1 473.7 L1630.6 457.7 L1631.1 441.8 L1631.6 426.1 L1632.1 410.7 L1632.6 395.9 L1633.1 381.6 L1633.6 368.0 L1634.1 355.3 L1634.6 343.4 L1635.1 332.6 L1635.6 322.8 L1636.1 314.2 L1636.6 306.8 L1637.1 300.6 L1637.6 295.8 L1638.1 292.3 L1638.6 290.3 L1639.1 289.6 L1639.6 290.1 L1640.1 291.7 L1640.6 294.3 L1641.1 297.9 L1641.6 302.6 L1642.1 308.2 L1642.6 314.8 L1643.1 322.3 L1643.7 330.7 L1644.2 339.9 L1644.7 349.9 L1645.2 360.6 L1645.7 372.0 L1646.2 384.0 L1646.7 396.5 L1647.2 409.5 L1647.7 422.9 L1648.2 436.6 L1648.7 450.5 L1649.2 464.6 L1649.7 478.7 L1650.2 492.8 L1650.7 506.8 L1651.2 520.5 L1651.7 534.0 L1652.3 547.0 L1652.8 559.5 L1653.3 571.3 L1653.8 582.4 L1654.3 592.5 L1654.8 601.5 L1655.3 609.2 L1655.8 615.1 L1656.3 618.4 L1656.8 615.4 L1657.3 609.9 L1657.8 602.9 L1658.3 594.6 L1658.8 585.4 L1659.3 575.5 L1659.9 564.9 L1660.4 553.9 L1660.9 542.6 L1661.4 531.0 L1661.9 519.4 L1662.4 507.9 L1662.9 496.5 L1663.4 485.3 L1663.9 474.6 L1664.4 464.3 L1664.9 454.6 L1665.4 445.5 L1665.9 437.2 L1666.4 429.7 L1667.0 423.0 L1667.5 417.3 L1668.0 452.0 L1668.5 408.8 L1669.0 450.0 L1669.5 404.4 L1670.0 451.0 L1670.5 404.2 L1671.0 452.0 L1671.5 406.7 L1672.0 450.0 L1672.5 411.5 L1673.0 451.0 L1673.5 418.7 L1674.0 452.0 L1674.5 428.1 L1675.0 450.0 L1675.5 439.4 L1676.0 445.8 L1676.5 452.6 L1677.0 459.8 L1677.5 467.4 L1678.0 475.3 L1678.5 483.4 L1679.0 491.8 L1679.6 500.4 L1680.1 509.2 L1680.6 518.1 L1681.1 527.1 L1681.6 536.1 L1682.1 545.0 L1682.6 553.9 L1683.1 562.7 L1683.6 571.2 L1684.1 579.6 L1684.6 587.6 L1685.1 595.3 L1685.6 602.6 L1686.1 609.4 L1686.6 615.6 L1687.1 621.1 L1687.6 625.7 L1688.1 629.4 L1688.6 631.4 L1689.1 629.5 L1689.6 626.1 L1690.1 621.8 L1690.6 616.7 L1691.1 611.1 L1691.6 605.0 L1692.1 598.5 L1692.6 591.8 L1693.1 584.9 L1693.6 577.9 L1694.1 570.9 L1694.6 563.9 L1695.2 557.1 L1695.7 550.5 L1696.2 544.2 L1696.7 538.1 L1697.2 532.5 L1697.7 527.3 L1698.2 522.6 L1698.7 518.5 L1699.2 514.9 L1699.7 511.9 L1700.2 509.6 L1700.7 507.9 L1701.2 506.9 L1701.7 506.5 L1702.2 506.7 L1702.7 507.2 L1703.2 508.0 L1703.7 509.1 L1704.2 507.3 L1704.7 507.9 L1705.2 521.2 L1705.7 526.3 L1706.2 523.4 L1706.8 522.5 L1707.3 525.0 L1707.8 528.1 L1708.3 536.0 L1708.8 540.4 L1709.3 538.1 L1709.8 547.8 L1710.3 563.1 L1710.8 562.1 L1711.3 559.1 L1711.8 564.6 L1712.3 567.4 L1712.8 572.3 L1713.3 577.2 L1713.8 582.1 L1714.3 587.1 L1714.8 592.0 L1715.3 596.9 L1715.8 601.7 L1716.3 606.3 L1716.9 610.9 L1717.4 615.2 L1717.9 619.4 L1718.4 623.3 L1718.9 626.9 L1719.4 630.3 L1719.9 633.2 L1720.4 635.8 L1720.9 637.7 L1721.4 638.8 L1721.9 638.1 L1722.4 636.9 L1722.9 635.3 L1723.4 633.4 L1723.9 631.3 L1724.4 629.0 L1725.0 626.6 L1725.5 624.1 L1726.0 621.5 L1726.5 618.9 L1727.0 616.2 L1727.5 613.5 L1728.0 610.9 L1728.5 608.3 L1729.0 605.8 L1729.5 603.3 L1730.0 601.0 L1730.5 598.8 L1731.0 596.8 L1731.5 594.9 L1732.0 593.2 L1732.6 591.7 L1733.1 590.5 L1733.6 589.3 L1734.1 589.4 L1734.6 590.7 L1735.1 590.5 L1735.6 588.5 L1736.1 587.6 L1736.6 587.2 L1737.1 586.3 L1737.6 588.0 L1738.1 590.8 L1738.6 590.2 L1739.1 590.6 L1739.6 591.5 L1740.1 592.6 L1740.6 593.7 L1741.1 595.0 L1741.6 596.4 L1742.1 597.8 L1742.6 599.3 L1743.1 601.0 L1743.6 602.6 L1744.1 604.4 L1744.6 606.2 L1745.1 608.0 L1745.6 609.9 L1746.1 611.8 L1746.6 613.8 L1747.1 615.7 L1747.6 617.7 L1748.1 619.6 L1748.6 621.5 L1749.1 623.4 L1749.6 625.3 L1750.1 627.1 L1750.6 628.8 L1751.1 630.4 L1751.6 632.0 L1752.1 633.5 L1752.6 634.8 L1753.1 636.0 L1753.6 637.0 L1754.1 637.7 L1754.6 638.2 L1755.1 638.0 L1755.6 637.6 L1756.1 637.2 L1756.6 636.6 L1757.1 636.0 L1757.6 635.4 L1758.2 634.7 L1758.7 634.0 L1759.2 633.3 L1759.7 632.6 L1760.2 631.9 L1760.7 631.2 L1761.2 630.5 L1761.7 629.8 L1762.2 629.2 L1762.7 628.6 L1763.2 628.0 L1763.7 627.5 L1764.3 627.0 L1764.8 625.8 L1765.3 624.5 L1765.8 625.2 L1766.3 625.6 L1766.8 625.8 L1767.3 626.5 L1767.8 626.6 L1768.3 625.1 L1768.8 625.1 L1769.3 627.6 L1769.8 627.1 L1770.3 624.8 L1770.8 625.8 L1771.3 628.6 L1771.8 628.5 L1772.3 625.2 L1772.8 624.3 L1773.4 626.3 L1773.9 628.4 L1774.4 629.6 L1774.9 628.8 L1775.4 628.9 L1775.9 629.3 L1776.4 629.7 L1776.9 630.1 L1777.4 630.5 L1777.9 630.9 L1778.4 631.3 L1778.9 631.8 L1779.4 632.2 L1779.9 632.6 L1780.4 633.1 L1780.9 633.5 L1781.4 634.0 L1781.9 634.4 L1782.4 634.9 L1782.9 635.3 L1783.4 635.8 L1784.0 636.2 L1784.5 636.6 L1785.0 637.0 L1785.5 637.4 L1786.0 637.7 L1786.5 638.1 L1787.0 638.4 L1787.5 638.7 L1788.0 638.9 L1788.5 639.1 L1789.0 639.1 L1789.5 639.1 L1790.0 639.1 L1790.5 639.1 L1791.0 639.0 L1791.5 638.8 L1792.0 638.6 L1792.5 638.3 L1793.0 638.0 L1793.5 637.7 L1794.0 637.5 L1794.5 637.2 L1795.0 636.9 L1795.5 636.6 L1796.0 636.3 L1796.5 636.1 L1797.0 635.8 L1797.5 635.6 L1798.0 635.3 L1798.5 635.1 L1799.0 635.0 L1799.5 634.8 L1800.0 634.7 L1800.5 634.6 L1801.0 634.5 L1801.5 634.5 L1802.0 634.5 L1802.5 634.5 L1803.0 634.5 L1803.5 634.5 L1804.0 634.6 L1804.5 634.7 L1805.0 634.8 L1805.5 634.9 L1806.0 635.1 L1806.5 635.2 L1807.0 635.4 L1807.5 635.6 L1808.0 635.8 L1808.5 636.0 L1809.0 636.2 L1809.5 636.4 L1810.0 636.6 L1810.5 636.8 L1811.0 637.0 L1811.5 637.2 L1812.0 637.4 L1812.5 637.6 L1813.0 637.7 L1813.5 637.9 L1814.0 638.0 L1814.5 638.1 L1815.0 638.2 L1817.0 638.0 L1821.0 638.0 L1825.0 637.1 L1829.0 637.1 L1833.0 637.9 L1837.0 637.8 L1841.0 637.7 L1845.0 637.4 L1849.0 637.7 L1853.0 637.7 L1857.0 637.6 L1861.0 637.2 L1865.0 637.5 L1869.0 637.4 L1873.0 637.8 L1877.0 638.0 L1881.0 638.0 L1885.0 637.6 L1889.0 637.5 L1893.0 637.3 L1897.0 637.1 L1901.0 637.1 L1905.0 637.5 L1909.0 637.4 L1913.0 637.4 L1917.0 637.9" stroke="#000" stroke-width="3.5" fill="none" stroke-linejoin="round" stroke-linecap="round"/>
<rect x="1168.3" y="21.3" width="766.9" height="618.1" fill="none" stroke="#000" stroke-width="3"/>
<path d="M1168.3 639.4v13.0M1216.2 639.4v6.5M1216.2 21.3v6.0M1264.2 639.4v13.0M1264.2 21.3v12.0M1312.1 639.4v6.5M1312.1 21.3v6.0M1360.0 639.4v13.0M1360.0 21.3v12.0M1408.0 639.4v6.5M1408.0 21.3v6.0M1455.9 639.4v13.0M1455.9 21.3v12.0M1503.8 639.4v6.5M1503.8 21.3v6.0M1551.8 639.4v13.0M1551.8 21.3v12.0M1599.7 639.4v6.5M1599.7 21.3v6.0M1647.6 639.4v13.0M1647.6 21.3v12.0M1695.5 639.4v6.5M1695.5 21.3v6.0M1743.5 639.4v13.0M1743.5 21.3v12.0M1791.4 639.4v6.5M1791.4 21.3v6.0M1839.3 639.4v13.0M1839.3 21.3v12.0M1887.3 639.4v6.5M1887.3 21.3v6.0M1935.2 639.4v13.0M1168.3 639.4h-13.0M1168.3 577.6h-6.5M1935.2 577.6h-6.0M1168.3 515.8h-13.0M1935.2 515.8h-12.0M1168.3 454.0h-6.5M1935.2 454.0h-6.0M1168.3 392.2h-13.0M1935.2 392.2h-12.0M1168.3 330.3h-6.5M1935.2 330.3h-6.0M1168.3 268.5h-13.0M1935.2 268.5h-12.0M1168.3 206.7h-6.5M1935.2 206.7h-6.0M1168.3 144.9h-13.0M1935.2 144.9h-12.0M1168.3 83.1h-6.5M1935.2 83.1h-6.0M1168.3 21.3h-13.0" stroke="#000" stroke-width="3" fill="none"/>
<text x="1168.3" y="680.7" font-family="Liberation Sans, Arial, sans-serif" stroke="#000" stroke-width="0.5" font-size="26.0" text-anchor="middle" fill="#000">1225</text>
<text x="1264.2" y="680.7" font-family="Liberation Sans, Arial, sans-serif" stroke="#000" stroke-width="0.5" font-size="26.0" text-anchor="middle" fill="#000">1250</text>
<text x="1360.0" y="680.7" font-family="Liberation Sans, Arial, sans-serif" stroke="#000" stroke-width="0.5" font-size="26.0" text-anchor="middle" fill="#000">1275</text>
<text x="1455.9" y="680.7" font-family="Liberation Sans, Arial, sans-serif" stroke="#000" stroke-width="0.5" font-size="26.0" text-anchor="middle" fill="#000">1300</text>
<text x="1551.8" y="680.7" font-family="Liberation Sans, Arial, sans-serif" stroke="#000" stroke-width="0.5" font-size="26.0" text-anchor="middle" fill="#000">1325</text>
<text x="1647.6" y="680.7" font-family="Liberation Sans, Arial, sans-serif" stroke="#000" stroke-width="0.5" font-size="26.0" text-anchor="middle" fill="#000">1350</text>
<text x="1743.5" y="680.7" font-family="Liberation Sans, Arial, sans-serif" stroke="#000" stroke-width="0.5" font-size="26.0" text-anchor="middle" fill="#000">1375</text>
<text x="1839.3" y="680.7" font-family="Liberation Sans, Arial, sans-serif" stroke="#000" stroke-width="0.5" font-size="26.0" text-anchor="middle" fill="#000">1400</text>
<text x="1935.2" y="680.7" font-family="Liberation Sans, Arial, sans-serif" stroke="#000" stroke-width="0.5" font-size="26.0" text-anchor="middle" fill="#000">1425</text>
<text x="1147.0" y="647.8" font-family="Liberation Sans, Arial, sans-serif" stroke="#000" stroke-width="0.5" font-size="26.0" text-anchor="end" fill="#000">0,0</text>
<text x="1147.0" y="524.2" font-family="Liberation Sans, Arial, sans-serif" stroke="#000" stroke-width="0.5" font-size="26.0" text-anchor="end" fill="#000">0,2</text>
<text x="1147.0" y="400.6" font-family="Liberation Sans, Arial, sans-serif" stroke="#000" stroke-width="0.5" font-size="26.0" text-anchor="end" fill="#000">0,4</text>
<text x="1147.0" y="276.9" font-family="Liberation Sans, Arial, sans-serif" stroke="#000" stroke-width="0.5" font-size="26.0" text-anchor="end" fill="#000">0,6</text>
<text x="1147.0" y="153.3" font-family="Liberation Sans, Arial, sans-serif" stroke="#000" stroke-width="0.5" font-size="26.0" text-anchor="end" fill="#000">0,8</text>
<text x="1147.0" y="29.1" font-family="Liberation Sans, Arial, sans-serif" stroke="#000" stroke-width="0.5" font-size="26.0" text-anchor="end" fill="#000">1,0</text>
<text x="1552.5" y="730.6" font-family="Liberation Sans, Arial, sans-serif" stroke="#000" stroke-width="0.5" font-size="32.1" text-anchor="middle" fill="#000" clip-path="url(#clipb)">Wavelength [nm]</text>
<text transform="translate(1074.3 311.3) rotate(-90)" font-family="Liberation Sans, Arial, sans-serif" stroke="#000" stroke-width="0.5" font-size="32.1" text-anchor="middle" fill="#000">Normalized intensity [a.u.]</text>
<rect x="1773.9" y="21.3" width="161.3" height="44.0" fill="#fff" stroke="#000" stroke-width="2.6"/>
<text x="1932.1" y="54.9" font-family="Liberation Sans, Arial, sans-serif" stroke="#000" stroke-width="0.5" font-size="32.6" text-anchor="end" fill="#000">d =100 µm</text>
<text x="1019.0" y="44.0" font-family="Liberation Serif, Times New Roman, serif" stroke="#000" stroke-width="0.7" stroke-linejoin="round" font-size="58" fill="#000">b)</text>
</g>
<g id="panel-c">
<path d="M211.5 791.1V1410.6M307.8 791.1V1410.6M404.1 791.1V1410.6M500.4 791.1V1410.6M596.7 791.1V1410.6M693.0 791.1V1410.6M789.2 791.1V1410.6M885.6 791.1V1410.6M163.3 1348.6H933.7M163.3 1224.8H933.7M163.3 1100.8H933.7M163.3 977.0H933.7M163.3 853.0H933.7" stroke="#f3f3f3" stroke-width="0.9" stroke-dasharray="2 2" fill="none"/>
<path d="M259.6 791.1V1410.6M355.9 791.1V1410.6M452.2 791.1V1410.6M548.5 791.1V1410.6M644.8 791.1V1410.6M741.1 791.1V1410.6M837.4 791.1V1410.6" stroke="#d8d8d8" stroke-width="1.2" fill="none"/>
<path d="M163.3 1286.7H933.7M163.3 1162.8H933.7M163.3 1038.9H933.7M163.3 915.0H933.7" stroke="#bcbcbc" stroke-width="0.9" stroke-dasharray="2 0.7" fill="none"/>
<path d="M164.3 1409.2 L168.3 1409.2 L172.3 1408.3 L176.3 1408.3 L180.3 1409.1 L184.3 1409.0 L190.0 1408.7 L190.5 1408.7 L191.0 1408.7 L191.5 1408.7 L192.0 1408.6 L192.6 1408.6 L193.1 1408.5 L193.6 1408.4 L194.1 1408.3 L194.6 1408.2 L195.1 1408.1 L195.6 1408.0 L196.1 1407.9 L196.6 1407.8 L197.1 1407.8 L197.6 1407.7 L198.2 1407.6 L198.7 1407.6 L199.2 1407.5 L199.7 1407.5 L200.2 1407.5 L200.7 1407.5 L201.2 1407.5 L201.8 1407.6 L202.3 1407.7 L202.8 1407.8 L203.3 1407.9 L203.9 1408.0 L204.4 1408.1 L204.9 1408.2 L205.4 1408.4 L206.0 1408.5 L206.5 1408.6 L207.0 1408.6 L207.5 1408.7 L208.1 1408.7 L208.6 1408.7 L209.1 1408.7 L209.6 1408.7 L210.1 1408.6 L210.6 1408.5 L211.1 1408.4 L211.6 1408.3 L212.1 1408.2 L212.6 1408.0 L213.1 1407.9 L213.6 1407.7 L214.1 1407.6 L214.6 1407.4 L215.1 1407.3 L215.6 1407.2 L216.1 1407.1 L216.6 1407.0 L217.1 1406.9 L217.6 1406.9 L218.1 1406.9 L218.6 1406.9 L219.1 1406.9 L219.6 1407.0 L220.1 1407.1 L220.6 1407.2 L221.1 1407.3 L221.6 1407.4 L222.1 1407.6 L222.6 1407.7 L223.2 1407.9 L223.7 1408.0 L224.2 1408.2 L224.7 1408.3 L225.2 1408.4 L225.7 1408.5 L226.2 1408.6 L226.7 1408.7 L227.2 1408.7 L227.7 1408.7 L228.2 1408.7 L228.7 1408.7 L229.2 1408.6 L229.7 1408.4 L230.2 1408.2 L230.7 1408.0 L231.2 1407.8 L231.7 1407.6 L232.2 1407.3 L232.7 1407.1 L233.2 1406.8 L233.7 1406.6 L234.2 1406.3 L234.7 1406.1 L235.2 1406.0 L235.7 1405.8 L236.2 1405.7 L236.7 1405.7 L237.2 1405.6 L237.7 1405.7 L238.2 1405.8 L238.8 1405.9 L239.3 1406.1 L239.8 1406.3 L240.3 1406.6 L240.9 1406.9 L241.4 1407.2 L241.9 1407.5 L242.4 1407.8 L243.0 1408.1 L243.5 1408.3 L244.0 1408.5 L244.5 1408.6 L245.1 1408.7 L245.6 1408.7 L246.1 1408.7 L246.6 1408.5 L247.1 1408.3 L247.6 1408.0 L248.1 1407.6 L248.6 1407.1 L249.1 1406.5 L249.6 1406.0 L250.1 1405.3 L250.6 1404.7 L251.1 1404.1 L251.6 1403.5 L252.1 1402.9 L252.6 1402.3 L253.1 1401.9 L253.6 1401.5 L254.1 1401.1 L254.6 1400.9 L255.1 1400.7 L255.6 1400.7 L256.1 1400.8 L256.6 1400.9 L257.1 1401.3 L257.6 1401.7 L258.1 1402.2 L258.6 1402.9 L259.1 1403.5 L259.6 1404.3 L260.1 1405.0 L260.7 1405.8 L261.2 1406.5 L261.7 1407.2 L262.2 1407.8 L262.7 1408.3 L263.2 1408.8 L263.7 1409.1 L264.2 1409.3 L264.7 1409.4 L265.2 1409.2 L265.7 1408.9 L266.2 1408.3 L266.7 1407.5 L267.2 1406.6 L267.7 1405.4 L268.2 1404.2 L268.7 1402.8 L269.2 1401.4 L269.7 1400.0 L270.2 1398.6 L270.7 1397.2 L271.2 1395.9 L271.7 1394.8 L272.2 1393.8 L272.7 1393.1 L273.2 1392.5 L273.7 1392.1 L274.2 1392.0 L274.7 1392.1 L275.2 1392.5 L275.7 1393.1 L276.2 1393.8 L276.7 1394.8 L277.2 1395.9 L277.7 1397.2 L278.2 1398.6 L278.7 1400.0 L279.2 1401.4 L279.7 1402.8 L280.2 1404.2 L280.7 1405.4 L281.2 1406.6 L281.7 1407.5 L282.2 1408.3 L282.7 1408.9 L283.2 1409.2 L283.7 1409.4 L284.2 1409.2 L284.7 1408.6 L285.2 1407.6 L285.7 1406.3 L286.2 1404.7 L286.7 1402.8 L287.2 1400.7 L287.7 1398.4 L288.2 1396.0 L288.7 1393.6 L289.2 1391.2 L289.7 1389.0 L290.2 1386.8 L290.7 1384.9 L291.2 1383.3 L291.7 1382.0 L292.2 1381.0 L292.7 1380.4 L293.2 1380.2 L293.7 1380.4 L294.2 1381.0 L294.7 1382.0 L295.2 1383.2 L295.7 1384.8 L296.2 1386.7 L296.7 1388.8 L297.2 1391.0 L297.7 1393.3 L298.2 1395.7 L298.7 1398.0 L299.2 1400.2 L299.7 1402.3 L300.2 1404.1 L300.7 1405.7 L301.2 1407.0 L301.7 1408.0 L302.2 1408.5 L302.7 1408.7 L303.2 1408.4 L303.7 1407.3 L304.2 1405.5 L304.7 1403.2 L305.2 1400.2 L305.7 1396.7 L306.2 1392.9 L306.7 1388.8 L307.2 1384.4 L307.7 1380.1 L308.2 1375.8 L308.7 1371.6 L309.2 1367.8 L309.7 1364.3 L310.2 1361.4 L310.7 1359.0 L311.2 1357.2 L311.7 1356.1 L312.2 1355.8 L312.7 1356.1 L313.2 1357.2 L313.7 1358.9 L314.2 1361.3 L314.7 1364.2 L315.2 1367.6 L315.7 1371.4 L316.2 1375.5 L316.7 1379.8 L317.2 1384.1 L317.7 1388.4 L318.2 1392.5 L318.7 1396.3 L319.2 1399.7 L319.7 1402.6 L320.2 1405.0 L320.7 1406.7 L321.2 1407.8 L321.7 1408.1 L322.2 1407.6 L322.7 1406.2 L323.2 1403.8 L323.7 1400.5 L324.2 1396.5 L324.7 1391.8 L325.2 1386.6 L325.7 1381.0 L326.2 1375.2 L326.7 1369.2 L327.2 1363.4 L327.7 1357.8 L328.2 1352.5 L328.7 1347.9 L329.2 1343.8 L329.7 1340.6 L330.2 1338.2 L330.7 1336.8 L331.2 1336.3 L331.7 1336.9 L332.2 1338.7 L332.8 1341.6 L333.3 1345.6 L333.8 1350.4 L334.3 1356.0 L334.9 1362.1 L335.4 1368.6 L335.9 1375.2 L336.4 1381.6 L337.0 1387.8 L337.5 1393.3 L338.0 1398.2 L338.5 1402.2 L339.1 1405.1 L339.6 1406.9 L340.1 1407.5 L340.6 1406.8 L341.1 1404.9 L341.6 1401.6 L342.2 1397.2 L342.7 1391.7 L343.2 1385.2 L343.7 1377.9 L344.2 1370.0 L344.7 1361.5 L345.2 1352.8 L345.8 1343.9 L346.3 1335.2 L346.8 1326.7 L347.3 1318.8 L347.8 1311.5 L348.3 1305.0 L348.8 1299.5 L349.4 1295.0 L349.9 1291.8 L350.4 1289.8 L350.9 1289.2 L351.4 1290.2 L351.9 1293.2 L352.5 1298.0 L353.0 1304.5 L353.5 1312.6 L354.0 1321.8 L354.6 1331.9 L355.1 1342.6 L355.6 1353.5 L356.1 1364.1 L356.7 1374.3 L357.2 1383.5 L357.7 1391.5 L358.2 1398.1 L358.8 1402.9 L359.3 1405.9 L359.8 1406.9 L360.3 1405.7 L360.8 1402.4 L361.3 1396.9 L361.8 1389.4 L362.3 1380.1 L362.8 1369.2 L363.3 1357.1 L363.8 1344.2 L364.3 1330.6 L364.8 1316.9 L365.3 1303.3 L365.8 1290.4 L366.3 1278.3 L366.8 1267.4 L367.3 1258.1 L367.8 1250.6 L368.3 1245.1 L368.8 1241.7 L369.3 1240.6 L369.8 1241.7 L370.3 1245.1 L370.9 1250.6 L371.4 1258.1 L371.9 1267.3 L372.4 1278.1 L372.9 1290.2 L373.5 1303.1 L374.0 1316.6 L374.5 1330.3 L375.0 1343.8 L375.6 1356.7 L376.1 1368.7 L376.6 1379.5 L377.1 1388.8 L377.6 1396.3 L378.2 1401.8 L378.7 1405.1 L379.2 1406.3 L379.7 1405.1 L380.2 1401.5 L380.7 1395.6 L381.2 1387.6 L381.8 1377.6 L382.3 1365.9 L382.8 1352.8 L383.3 1338.6 L383.8 1323.7 L384.3 1308.4 L384.8 1293.1 L385.3 1278.1 L385.8 1263.9 L386.3 1250.8 L386.8 1239.2 L387.4 1229.2 L387.9 1221.2 L388.4 1215.3 L388.9 1211.7 L389.4 1210.5 L389.9 1212.0 L390.4 1216.4 L390.9 1223.6 L391.4 1233.3 L391.9 1245.4 L392.4 1259.3 L392.9 1274.7 L393.4 1291.1 L393.9 1308.1 L394.5 1325.0 L395.0 1341.4 L395.5 1356.9 L396.0 1370.8 L396.5 1382.8 L397.0 1392.6 L397.5 1399.8 L398.0 1404.2 L398.5 1405.6 L399.0 1403.9 L399.5 1398.6 L400.1 1389.9 L400.6 1378.1 L401.1 1363.5 L401.6 1346.4 L402.1 1327.4 L402.7 1307.0 L403.2 1285.7 L403.7 1264.1 L404.2 1242.8 L404.8 1222.4 L405.3 1203.4 L405.8 1186.4 L406.3 1171.8 L406.8 1160.0 L407.4 1151.3 L407.9 1146.0 L408.4 1144.2 L408.9 1146.0 L409.4 1151.3 L409.9 1159.9 L410.4 1171.7 L410.9 1186.3 L411.4 1203.3 L411.9 1222.2 L412.4 1242.6 L412.9 1263.9 L413.4 1285.4 L413.9 1306.6 L414.4 1327.0 L414.9 1345.9 L415.4 1362.9 L415.9 1377.5 L416.4 1389.3 L416.9 1398.0 L417.4 1403.2 L417.9 1405.0 L418.4 1403.1 L418.9 1397.2 L419.4 1387.7 L419.9 1374.6 L420.4 1358.4 L421.0 1339.4 L421.5 1318.1 L422.0 1295.0 L422.5 1270.7 L423.0 1245.8 L423.5 1220.9 L424.0 1196.6 L424.5 1173.5 L425.0 1152.2 L425.6 1133.2 L426.1 1117.0 L426.6 1104.0 L427.1 1094.4 L427.6 1088.6 L428.1 1086.6 L428.6 1088.8 L429.1 1095.2 L429.7 1105.8 L430.2 1120.1 L430.7 1137.9 L431.2 1158.6 L431.7 1181.7 L432.3 1206.5 L432.8 1232.4 L433.3 1258.6 L433.8 1284.5 L434.4 1309.3 L434.9 1332.4 L435.4 1353.1 L435.9 1370.9 L436.4 1385.3 L437.0 1395.8 L437.5 1402.2 L438.0 1404.4 L438.5 1402.0 L439.0 1394.8 L439.6 1383.0 L440.1 1366.9 L440.6 1346.9 L441.1 1323.5 L441.6 1297.2 L442.2 1268.7 L442.7 1238.7 L443.2 1208.0 L443.7 1177.3 L444.2 1147.3 L444.8 1118.9 L445.3 1092.6 L445.8 1069.2 L446.3 1049.1 L446.8 1033.0 L447.4 1021.3 L447.9 1014.1 L448.4 1011.6 L448.9 1014.3 L449.4 1022.3 L449.9 1035.3 L450.4 1053.1 L451.0 1075.0 L451.5 1100.6 L452.0 1129.1 L452.5 1159.8 L453.0 1191.8 L453.5 1224.2 L454.0 1256.2 L454.5 1286.9 L455.0 1315.4 L455.5 1341.0 L456.1 1363.0 L456.6 1380.7 L457.1 1393.8 L457.6 1401.7 L458.1 1404.4 L458.6 1401.5 L459.1 1393.0 L459.7 1379.0 L460.2 1359.8 L460.7 1336.0 L461.2 1308.2 L461.7 1276.9 L462.3 1243.1 L462.8 1207.5 L463.3 1170.9 L463.8 1134.4 L464.3 1098.8 L464.9 1065.0 L465.4 1033.7 L465.9 1005.9 L466.4 982.1 L466.9 962.9 L467.5 948.9 L468.0 940.4 L468.5 937.5 L469.0 940.4 L469.5 948.9 L470.0 962.9 L470.5 982.0 L471.0 1005.8 L471.5 1033.7 L472.0 1064.9 L472.5 1098.7 L473.0 1134.3 L473.6 1170.8 L474.1 1207.3 L474.6 1242.9 L475.1 1276.7 L475.6 1307.9 L476.1 1335.8 L476.6 1359.5 L477.1 1378.7 L477.6 1392.7 L478.1 1401.2 L478.6 1404.1 L479.1 1400.6 L479.6 1390.3 L480.2 1373.4 L480.7 1350.3 L481.2 1321.5 L481.7 1287.9 L482.2 1250.2 L482.8 1209.3 L483.3 1166.3 L483.8 1122.2 L484.3 1078.1 L484.8 1035.1 L485.4 994.2 L485.9 956.5 L486.4 922.9 L486.9 894.1 L487.4 871.0 L488.0 854.1 L488.5 843.8 L489.0 840.3 L489.5 844.1 L490.0 855.5 L490.6 874.2 L491.1 899.7 L491.6 931.2 L492.1 967.9 L492.6 1008.7 L493.2 1052.7 L493.7 1098.6 L494.2 1145.1 L494.7 1191.0 L495.3 1235.0 L495.8 1275.9 L496.3 1312.5 L496.8 1344.0 L497.3 1369.5 L497.9 1388.2 L498.4 1399.6 L498.9 1403.4 L499.4 1400.1 L499.9 1390.3 L500.4 1374.2 L501.0 1352.1 L501.5 1324.6 L502.0 1292.2 L502.5 1255.8 L503.0 1216.0 L503.5 1173.8 L504.0 1130.2 L504.6 1086.0 L505.1 1042.4 L505.6 1000.2 L506.1 960.4 L506.6 924.0 L507.1 891.6 L507.6 864.1 L508.2 842.0 L508.7 825.9 L509.2 816.1 L509.7 812.8 L510.2 816.4 L510.7 827.2 L511.2 845.0 L511.7 869.2 L512.2 899.2 L512.7 934.5 L513.2 974.0 L513.7 1016.8 L514.2 1061.8 L514.8 1108.0 L515.3 1154.2 L515.8 1199.2 L516.3 1242.0 L516.8 1281.5 L517.3 1316.7 L517.8 1346.8 L518.3 1371.0 L518.8 1388.7 L519.3 1399.5 L519.8 1403.2 L520.3 1399.4 L520.8 1388.2 L521.3 1369.8 L521.8 1344.7 L522.3 1313.5 L522.8 1277.0 L523.3 1236.1 L523.8 1191.7 L524.3 1145.0 L524.8 1097.1 L525.3 1049.3 L525.8 1002.6 L526.3 958.2 L526.8 917.3 L527.3 880.7 L527.8 849.5 L528.3 824.5 L528.8 806.1 L529.3 794.9 L529.8 791.1 L530.3 794.9 L530.8 806.1 L531.3 824.5 L531.9 849.6 L532.4 880.8 L532.9 917.3 L533.4 958.3 L533.9 1002.6 L534.4 1049.4 L535.0 1097.3 L535.5 1145.2 L536.0 1191.9 L536.5 1236.2 L537.0 1277.2 L537.5 1313.7 L538.0 1344.9 L538.6 1370.0 L539.1 1388.4 L539.6 1399.6 L540.1 1403.4 L540.6 1400.2 L541.1 1390.8 L541.6 1375.2 L542.1 1354.0 L542.6 1327.5 L543.1 1296.3 L543.6 1261.2 L544.1 1222.9 L544.6 1182.2 L545.1 1140.2 L545.7 1097.7 L546.2 1055.6 L546.7 1015.0 L547.2 976.7 L547.7 941.6 L548.2 910.4 L548.7 883.9 L549.2 862.6 L549.7 847.1 L550.2 837.6 L550.7 834.5 L551.2 837.1 L551.7 845.0 L552.2 858.0 L552.7 875.9 L553.2 898.3 L553.7 924.8 L554.2 954.9 L554.7 988.1 L555.2 1023.7 L555.7 1061.1 L556.2 1099.5 L556.7 1138.4 L557.2 1176.8 L557.7 1214.2 L558.2 1249.8 L558.7 1283.0 L559.2 1313.1 L559.7 1339.6 L560.2 1362.0 L560.7 1379.9 L561.2 1392.9 L561.7 1400.8 L562.2 1403.4 L562.7 1399.7 L563.2 1388.8 L563.8 1370.9 L564.3 1346.5 L564.8 1316.3 L565.3 1281.1 L565.8 1241.9 L566.4 1199.8 L566.9 1155.8 L567.4 1111.2 L567.9 1067.2 L568.5 1025.1 L569.0 985.9 L569.5 950.7 L570.0 920.5 L570.5 896.1 L571.1 878.2 L571.6 867.3 L572.1 863.6 L572.6 866.6 L573.1 875.6 L573.7 890.3 L574.2 910.5 L574.7 935.7 L575.2 965.3 L575.7 998.6 L576.3 1035.0 L576.8 1073.6 L577.3 1113.5 L577.8 1153.9 L578.3 1193.8 L578.8 1232.4 L579.4 1268.7 L579.9 1302.1 L580.4 1331.7 L580.9 1356.9 L581.4 1377.0 L582.0 1391.8 L582.5 1400.8 L583.0 1403.8 L583.5 1400.9 L584.0 1392.4 L584.5 1378.4 L585.0 1359.3 L585.5 1335.5 L586.1 1307.7 L586.6 1276.5 L587.1 1242.7 L587.6 1207.1 L588.1 1170.6 L588.6 1134.2 L589.1 1098.6 L589.6 1064.8 L590.1 1033.6 L590.7 1005.8 L591.2 982.0 L591.7 962.9 L592.2 948.9 L592.7 940.4 L593.2 937.5 L593.7 940.1 L594.2 947.9 L594.8 960.6 L595.3 978.0 L595.8 999.8 L596.3 1025.3 L596.8 1054.1 L597.4 1085.6 L597.9 1118.9 L598.4 1153.4 L598.9 1188.2 L599.4 1222.7 L599.9 1256.0 L600.5 1287.4 L601.0 1316.3 L601.5 1341.8 L602.0 1363.6 L602.5 1381.0 L603.1 1393.7 L603.6 1401.5 L604.1 1404.1 L604.6 1401.7 L605.1 1394.6 L605.6 1382.9 L606.1 1366.8 L606.6 1346.8 L607.2 1323.3 L607.7 1296.8 L608.2 1268.0 L608.7 1237.3 L609.2 1205.6 L609.7 1173.6 L610.2 1141.9 L610.7 1111.2 L611.2 1082.3 L611.7 1055.9 L612.3 1032.4 L612.8 1012.4 L613.3 996.3 L613.8 984.6 L614.3 977.5 L614.8 975.1 L615.3 977.7 L615.8 985.6 L616.4 998.5 L616.9 1016.1 L617.4 1037.9 L617.9 1063.5 L618.4 1092.2 L619.0 1123.3 L619.5 1156.0 L620.0 1189.6 L620.5 1223.1 L621.0 1255.9 L621.6 1287.0 L622.1 1315.7 L622.6 1341.3 L623.1 1363.1 L623.6 1380.7 L624.2 1393.6 L624.7 1401.5 L625.2 1404.1 L625.7 1402.0 L626.2 1395.8 L626.7 1385.7 L627.2 1371.8 L627.7 1354.6 L628.2 1334.4 L628.7 1311.7 L629.2 1287.2 L629.7 1261.4 L630.2 1234.9 L630.8 1208.5 L631.3 1182.7 L631.8 1158.1 L632.3 1135.5 L632.8 1115.3 L633.3 1098.1 L633.8 1084.2 L634.3 1074.1 L634.8 1067.9 L635.3 1065.8 L635.8 1067.4 L636.3 1072.1 L636.8 1079.8 L637.3 1090.5 L637.8 1103.8 L638.3 1119.6 L638.8 1137.6 L639.3 1157.4 L639.8 1178.6 L640.3 1200.9 L640.8 1223.8 L641.3 1247.0 L641.8 1269.9 L642.3 1292.2 L642.8 1313.4 L643.3 1333.2 L643.8 1351.2 L644.3 1367.0 L644.8 1380.3 L645.3 1391.0 L645.8 1398.7 L646.3 1403.4 L646.8 1405.0 L647.3 1403.5 L647.8 1399.1 L648.3 1391.9 L648.8 1382.0 L649.3 1369.7 L649.8 1355.2 L650.3 1338.8 L650.8 1321.0 L651.3 1302.1 L651.8 1282.5 L652.3 1262.7 L652.8 1243.8 L653.3 1226.7 L653.8 1208.3 L654.3 1194.9 L654.8 1179.1 L655.3 1162.7 L655.8 1155.6 L656.3 1147.7 L656.8 1141.7 L657.3 1140.2 L657.8 1141.5 L658.3 1145.6 L658.8 1152.2 L659.3 1161.3 L659.8 1172.7 L660.4 1186.1 L660.9 1201.3 L661.4 1218.0 L661.9 1235.7 L662.4 1254.3 L662.9 1273.2 L663.4 1292.2 L663.9 1310.7 L664.4 1328.5 L664.9 1345.2 L665.4 1360.3 L666.0 1373.8 L666.5 1385.1 L667.0 1394.2 L667.5 1400.9 L668.0 1404.9 L668.5 1406.3 L669.0 1404.9 L669.5 1400.7 L670.0 1394.0 L670.6 1384.8 L671.1 1373.5 L671.6 1360.3 L672.1 1345.8 L672.6 1330.4 L673.1 1314.4 L673.7 1298.5 L674.2 1283.0 L674.7 1268.5 L675.2 1255.4 L675.7 1244.1 L676.2 1234.9 L676.8 1228.1 L677.3 1224.0 L677.8 1222.6 L678.3 1223.3 L678.8 1225.5 L679.3 1227.7 L679.8 1235.5 L680.3 1245.0 L680.8 1248.2 L681.4 1256.5 L681.9 1272.3 L682.4 1284.1 L682.9 1294.6 L683.4 1304.7 L683.9 1310.0 L684.4 1320.9 L684.9 1333.1 L685.4 1344.4 L685.9 1355.3 L686.4 1365.5 L686.9 1375.0 L687.5 1383.5 L688.0 1391.0 L688.5 1397.2 L689.0 1402.2 L689.5 1405.8 L690.0 1408.0 L690.5 1408.7 L691.0 1407.9 L691.5 1405.4 L692.0 1401.2 L692.5 1395.6 L693.0 1388.6 L693.5 1380.5 L694.0 1371.4 L694.5 1361.6 L695.0 1351.5 L695.5 1341.2 L696.0 1331.0 L696.5 1321.3 L697.0 1312.2 L697.5 1304.1 L698.0 1297.1 L698.5 1291.4 L699.0 1287.3 L699.5 1284.8 L700.0 1283.9 L700.5 1284.4 L701.0 1285.9 L701.5 1288.3 L702.1 1289.6 L702.6 1291.5 L703.1 1299.5 L703.6 1310.0 L704.1 1315.5 L704.6 1315.0 L705.2 1324.9 L705.7 1334.6 L706.2 1342.4 L706.7 1350.2 L707.2 1358.0 L707.7 1365.6 L708.3 1372.9 L708.8 1379.8 L709.3 1386.1 L709.8 1391.8 L710.3 1396.8 L710.8 1401.0 L711.4 1404.4 L711.9 1406.8 L712.4 1408.2 L712.9 1408.7 L713.4 1408.1 L713.9 1406.2 L714.5 1403.2 L715.0 1399.0 L715.5 1394.0 L716.0 1388.1 L716.6 1381.7 L717.1 1375.0 L717.6 1368.1 L718.1 1361.4 L718.7 1355.0 L719.2 1349.2 L719.7 1344.1 L720.2 1340.0 L720.8 1336.9 L721.3 1335.0 L721.8 1334.4 L722.3 1334.7 L722.8 1335.5 L723.3 1336.8 L723.8 1337.3 L724.3 1335.6 L724.8 1342.6 L725.3 1351.1 L725.8 1355.4 L726.3 1358.7 L726.8 1362.7 L727.3 1364.1 L727.8 1367.4 L728.3 1371.9 L728.9 1376.4 L729.4 1380.9 L729.9 1385.2 L730.4 1389.3 L730.9 1393.2 L731.4 1396.7 L731.9 1399.9 L732.4 1402.7 L732.9 1405.1 L733.4 1406.9 L733.9 1408.3 L734.4 1409.1 L734.9 1409.4 L735.4 1409.1 L735.9 1408.4 L736.4 1407.3 L736.9 1405.7 L737.4 1403.8 L737.9 1401.5 L738.4 1399.0 L738.9 1396.3 L739.4 1393.4 L739.9 1390.6 L740.4 1387.8 L740.9 1385.0 L741.4 1382.5 L741.9 1380.3 L742.4 1378.3 L742.9 1376.8 L743.4 1375.6 L743.9 1374.9 L744.4 1374.7 L744.9 1374.8 L745.4 1375.2 L745.9 1375.8 L746.5 1376.7 L747.0 1377.7 L747.5 1379.0 L748.0 1380.5 L748.5 1382.2 L749.0 1384.0 L749.6 1385.9 L750.1 1387.9 L750.6 1389.9 L751.1 1392.0 L751.6 1394.1 L752.1 1396.2 L752.6 1398.2 L753.2 1400.1 L753.7 1401.9 L754.2 1403.5 L754.7 1405.0 L755.2 1406.3 L755.7 1407.4 L756.3 1408.2 L756.8 1408.9 L757.3 1409.2 L757.8 1409.4 L758.3 1409.3 L758.8 1409.0 L759.3 1408.6 L759.8 1408.1 L760.3 1407.4 L760.8 1406.6 L761.3 1405.7 L761.8 1404.7 L762.3 1403.9 L762.8 1403.2 L763.4 1400.7 L763.9 1398.7 L764.4 1398.4 L764.9 1397.2 L765.4 1396.7 L765.9 1396.6 L766.4 1396.0 L766.9 1396.2 L767.4 1396.1 L767.9 1396.0 L768.4 1396.0 L768.9 1396.2 L769.4 1396.5 L769.9 1396.9 L770.4 1397.4 L770.9 1397.9 L771.4 1398.6 L771.9 1399.3 L772.4 1400.1 L772.9 1400.9 L773.4 1401.8 L774.0 1402.7 L774.5 1403.5 L775.0 1404.4 L775.5 1405.2 L776.0 1406.0 L776.5 1406.7 L777.0 1407.4 L777.5 1408.0 L778.0 1408.5 L778.5 1408.9 L779.0 1409.1 L779.5 1409.3 L780.0 1409.4 L780.5 1409.3 L781.0 1409.2 L781.5 1409.0 L782.0 1408.8 L782.5 1408.5 L783.0 1408.2 L783.5 1407.8 L784.0 1407.4 L784.5 1406.9 L785.0 1406.5 L785.5 1406.0 L786.0 1405.6 L786.5 1405.2 L787.0 1404.9 L787.5 1404.6 L788.0 1404.4 L788.5 1404.2 L789.0 1404.1 L789.5 1404.0 L790.0 1404.1 L790.5 1404.1 L791.0 1404.3 L791.5 1404.4 L792.0 1404.6 L792.5 1404.9 L793.0 1405.2 L793.5 1405.5 L794.0 1405.8 L794.5 1406.2 L795.0 1406.5 L795.6 1406.9 L796.1 1407.2 L796.6 1407.6 L797.1 1407.9 L797.6 1408.2 L798.1 1408.5 L798.6 1408.8 L799.1 1409.0 L799.6 1409.1 L800.1 1409.3 L800.6 1409.3 L801.1 1409.4 L801.6 1409.4 L802.1 1409.3 L802.6 1409.3 L803.1 1409.2 L803.6 1409.1 L804.1 1409.0 L804.7 1408.9 L805.2 1408.8 L805.7 1408.6 L806.2 1408.5 L806.7 1408.4 L807.2 1408.2 L807.7 1408.0 L808.2 1407.9 L808.7 1407.7 L809.2 1407.6 L809.7 1407.5 L810.2 1407.3 L810.8 1407.2 L811.3 1407.1 L811.8 1407.0 L812.3 1407.0 L812.8 1406.9 L813.3 1406.9 L813.8 1406.9 L814.3 1406.9 L814.8 1406.9 L815.3 1407.0 L815.8 1407.0 L816.3 1407.1 L816.9 1407.2 L817.4 1407.3 L817.9 1407.4 L818.4 1407.6 L818.9 1407.7 L819.4 1407.8 L819.9 1407.9 L820.4 1408.1 L820.9 1408.2 L821.4 1408.3 L821.9 1408.4 L822.5 1408.5 L823.0 1408.6 L823.5 1408.7 L824.0 1408.7 L824.5 1408.7 L825.0 1408.7 L827.0 1408.5 L831.0 1408.8 L835.0 1408.6 L839.0 1408.8 L843.0 1408.9 L847.0 1408.3 L851.0 1408.3 L855.0 1409.1 L859.0 1408.5 L863.0 1408.5 L867.0 1409.2 L871.0 1408.7 L875.0 1409.1 L879.0 1408.7 L883.0 1408.9 L887.0 1408.4 L891.0 1408.9 L895.0 1409.1 L899.0 1408.8 L903.0 1409.0 L907.0 1408.9 L911.0 1408.3" stroke="#000" stroke-width="3.5" fill="none" stroke-linejoin="round" stroke-linecap="round"/>
<rect x="163.3" y="791.1" width="770.4" height="619.5" fill="none" stroke="#000" stroke-width="3"/>
<path d="M163.3 1410.6v13.0M211.5 1410.6v6.5M211.5 791.1v6.0M259.6 1410.6v13.0M259.6 791.1v12.0M307.8 1410.6v6.5M307.8 791.1v6.0M355.9 1410.6v13.0M355.9 791.1v12.0M404.1 1410.6v6.5M404.1 791.1v6.0M452.2 1410.6v13.0M452.2 791.1v12.0M500.4 1410.6v6.5M500.4 791.1v6.0M548.5 1410.6v13.0M548.5 791.1v12.0M596.7 1410.6v6.5M596.7 791.1v6.0M644.8 1410.6v13.0M644.8 791.1v12.0M693.0 1410.6v6.5M693.0 791.1v6.0M741.1 1410.6v13.0M741.1 791.1v12.0M789.2 1410.6v6.5M789.2 791.1v6.0M837.4 1410.6v13.0M837.4 791.1v12.0M885.6 1410.6v6.5M885.6 791.1v6.0M933.7 1410.6v13.0M163.3 1410.6h-13.0M163.3 1348.6h-6.5M933.7 1348.6h-6.0M163.3 1286.7h-13.0M933.7 1286.7h-12.0M163.3 1224.8h-6.5M933.7 1224.8h-6.0M163.3 1162.8h-13.0M933.7 1162.8h-12.0M163.3 1100.8h-6.5M933.7 1100.8h-6.0M163.3 1038.9h-13.0M933.7 1038.9h-12.0M163.3 977.0h-6.5M933.7 977.0h-6.0M163.3 915.0h-13.0M933.7 915.0h-12.0M163.3 853.0h-6.5M933.7 853.0h-6.0M163.3 791.1h-13.0" stroke="#000" stroke-width="3" fill="none"/>
<text x="163.3" y="1451.9" font-family="Liberation Sans, Arial, sans-serif" stroke="#000" stroke-width="0.5" font-size="26.0" text-anchor="middle" fill="#000">1225</text>
<text x="259.6" y="1451.9" font-family="Liberation Sans, Arial, sans-serif" stroke="#000" stroke-width="0.5" font-size="26.0" text-anchor="middle" fill="#000">1250</text>
<text x="355.9" y="1451.9" font-family="Liberation Sans, Arial, sans-serif" stroke="#000" stroke-width="0.5" font-size="26.0" text-anchor="middle" fill="#000">1275</text>
<text x="452.2" y="1451.9" font-family="Liberation Sans, Arial, sans-serif" stroke="#000" stroke-width="0.5" font-size="26.0" text-anchor="middle" fill="#000">1300</text>
<text x="548.5" y="1451.9" font-family="Liberation Sans, Arial, sans-serif" stroke="#000" stroke-width="0.5" font-size="26.0" text-anchor="middle" fill="#000">1325</text>
<text x="644.8" y="1451.9" font-family="Liberation Sans, Arial, sans-serif" stroke="#000" stroke-width="0.5" font-size="26.0" text-anchor="middle" fill="#000">1350</text>
<text x="741.1" y="1451.9" font-family="Liberation Sans, Arial, sans-serif" stroke="#000" stroke-width="0.5" font-size="26.0" text-anchor="middle" fill="#000">1375</text>
<text x="837.4" y="1451.9" font-family="Liberation Sans, Arial, sans-serif" stroke="#000" stroke-width="0.5" font-size="26.0" text-anchor="middle" fill="#000">1400</text>
<text x="933.7" y="1451.9" font-family="Liberation Sans, Arial, sans-serif" stroke="#000" stroke-width="0.5" font-size="26.0" text-anchor="middle" fill="#000">1425</text>
<text x="142.0" y="1419.0" font-family="Liberation Sans, Arial, sans-serif" stroke="#000" stroke-width="0.5" font-size="26.0" text-anchor="end" fill="#000">0,0</text>
<text x="142.0" y="1295.1" font-family="Liberation Sans, Arial, sans-serif" stroke="#000" stroke-width="0.5" font-size="26.0" text-anchor="end" fill="#000">0,2</text>
<text x="142.0" y="1171.2" font-family="Liberation Sans, Arial, sans-serif" stroke="#000" stroke-width="0.5" font-size="26.0" text-anchor="end" fill="#000">0,4</text>
<text x="142.0" y="1047.3" font-family="Liberation Sans, Arial, sans-serif" stroke="#000" stroke-width="0.5" font-size="26.0" text-anchor="end" fill="#000">0,6</text>
<text x="142.0" y="923.4" font-family="Liberation Sans, Arial, sans-serif" stroke="#000" stroke-width="0.5" font-size="26.0" text-anchor="end" fill="#000">0,8</text>
<text x="142.0" y="798.0" font-family="Liberation Sans, Arial, sans-serif" stroke="#000" stroke-width="0.5" font-size="26.0" text-anchor="end" fill="#000">1,0</text>
<text x="549.3" y="1501.1" font-family="Liberation Sans, Arial, sans-serif" stroke="#000" stroke-width="0.5" font-size="32.1" text-anchor="middle" fill="#000">Wavelength [nm]</text>
<text transform="translate(69.3 1081.8) rotate(-90)" font-family="Liberation Sans, Arial, sans-serif" stroke="#000" stroke-width="0.5" font-size="32.1" text-anchor="middle" fill="#000">Normalized intensity [a.u.]</text>
<rect x="771.4" y="791.1" width="162.3" height="44.0" fill="#fff" stroke="#000" stroke-width="2.6"/>
<text x="930.1" y="824.5" font-family="Liberation Sans, Arial, sans-serif" stroke="#000" stroke-width="0.5" font-size="32.6" text-anchor="end" fill="#000">d =150 µm</text>
<text x="0.5" y="805.6" font-family="Liberation Serif, Times New Roman, serif" stroke="#000" stroke-width="0.7" stroke-linejoin="round" font-size="58" fill="#000">c)</text>
</g>
<g id="panel-d">
<path d="M1226.2 786.3V1405.7M1322.8 786.3V1405.7M1419.2 786.3V1405.7M1515.8 786.3V1405.7M1612.2 786.3V1405.7M1708.8 786.3V1405.7M1805.2 786.3V1405.7M1901.8 786.3V1405.7M1178.0 1343.8H1950.0M1178.0 1219.9H1950.0M1178.0 1096.0H1950.0M1178.0 972.1H1950.0M1178.0 848.2H1950.0" stroke="#f3f3f3" stroke-width="0.9" stroke-dasharray="2 2" fill="none"/>
<path d="M1274.5 786.3V1405.7M1371.0 786.3V1405.7M1467.5 786.3V1405.7M1564.0 786.3V1405.7M1660.5 786.3V1405.7M1757.0 786.3V1405.7M1853.5 786.3V1405.7" stroke="#d8d8d8" stroke-width="1.2" fill="none"/>
<path d="M1178.0 1281.8H1950.0M1178.0 1157.9H1950.0M1178.0 1034.1H1950.0M1178.0 910.2H1950.0" stroke="#bcbcbc" stroke-width="0.9" stroke-dasharray="2 0.7" fill="none"/>
<path d="M1179.0 1403.6 L1183.0 1403.9 L1187.0 1403.7 L1191.0 1403.9 L1195.0 1404.0 L1199.0 1403.4 L1203.0 1403.4 L1207.0 1404.2 L1211.0 1403.6 L1215.0 1403.6 L1219.0 1404.3 L1224.0 1403.8 L1224.5 1403.8 L1225.0 1403.8 L1225.6 1403.7 L1226.1 1403.6 L1226.6 1403.5 L1227.1 1403.4 L1227.7 1403.2 L1228.2 1403.1 L1228.7 1403.0 L1229.2 1402.8 L1229.7 1402.7 L1230.3 1402.7 L1230.8 1402.6 L1231.3 1402.6 L1231.8 1402.6 L1232.3 1402.7 L1232.9 1402.8 L1233.4 1402.9 L1233.9 1403.0 L1234.4 1403.1 L1235.0 1403.3 L1235.5 1403.4 L1236.0 1403.6 L1236.5 1403.7 L1237.1 1403.8 L1237.6 1403.8 L1238.1 1403.8 L1238.6 1403.8 L1239.1 1403.7 L1239.6 1403.6 L1240.1 1403.5 L1240.6 1403.3 L1241.1 1403.1 L1241.6 1402.9 L1242.1 1402.7 L1242.6 1402.5 L1243.1 1402.3 L1243.6 1402.2 L1244.1 1402.1 L1244.6 1402.0 L1245.1 1402.0 L1245.6 1402.0 L1246.2 1402.1 L1246.7 1402.2 L1247.2 1402.4 L1247.8 1402.6 L1248.3 1402.8 L1248.8 1403.0 L1249.3 1403.2 L1249.9 1403.4 L1250.4 1403.6 L1250.9 1403.7 L1251.5 1403.8 L1252.0 1403.8 L1252.5 1403.8 L1253.0 1403.6 L1253.5 1403.4 L1254.1 1403.1 L1254.6 1402.7 L1255.1 1402.2 L1255.6 1401.8 L1256.1 1401.3 L1256.6 1400.9 L1257.1 1400.5 L1257.7 1400.1 L1258.2 1399.9 L1258.7 1399.7 L1259.2 1399.7 L1259.7 1399.7 L1260.2 1399.9 L1260.7 1400.1 L1261.2 1400.5 L1261.7 1400.9 L1262.2 1401.3 L1262.7 1401.8 L1263.2 1402.2 L1263.7 1402.7 L1264.2 1403.1 L1264.7 1403.4 L1265.2 1403.6 L1265.7 1403.8 L1266.2 1403.8 L1266.7 1403.7 L1267.2 1403.4 L1267.7 1402.9 L1268.2 1402.3 L1268.7 1401.5 L1269.2 1400.6 L1269.7 1399.7 L1270.2 1398.7 L1270.7 1397.8 L1271.2 1397.1 L1271.7 1396.4 L1272.2 1395.9 L1272.7 1395.6 L1273.2 1395.5 L1273.7 1395.6 L1274.2 1395.9 L1274.7 1396.4 L1275.3 1397.1 L1275.8 1397.8 L1276.3 1398.7 L1276.8 1399.7 L1277.3 1400.6 L1277.8 1401.5 L1278.3 1402.3 L1278.9 1402.9 L1279.4 1403.4 L1279.9 1403.7 L1280.4 1403.8 L1280.9 1403.6 L1281.5 1402.9 L1282.0 1401.9 L1282.5 1400.4 L1283.1 1398.8 L1283.6 1396.9 L1284.1 1395.0 L1284.6 1393.2 L1285.2 1391.5 L1285.7 1390.1 L1286.2 1389.0 L1286.8 1388.3 L1287.3 1388.1 L1287.8 1388.3 L1288.3 1388.9 L1288.8 1389.8 L1289.3 1391.0 L1289.8 1392.4 L1290.3 1394.0 L1290.8 1395.7 L1291.3 1397.3 L1291.8 1398.9 L1292.3 1400.4 L1292.8 1401.6 L1293.3 1402.5 L1293.8 1403.0 L1294.3 1403.2 L1294.8 1402.9 L1295.3 1402.1 L1295.8 1400.8 L1296.4 1399.0 L1296.9 1396.9 L1297.4 1394.6 L1297.9 1392.1 L1298.4 1389.6 L1298.9 1387.2 L1299.4 1385.1 L1300.0 1383.4 L1300.5 1382.0 L1301.0 1381.2 L1301.5 1380.9 L1302.0 1381.2 L1302.6 1382.0 L1303.1 1383.3 L1303.6 1385.1 L1304.1 1387.1 L1304.7 1389.5 L1305.2 1391.9 L1305.7 1394.4 L1306.3 1396.7 L1306.8 1398.8 L1307.3 1400.5 L1307.8 1401.8 L1308.4 1402.6 L1308.9 1402.9 L1309.4 1402.5 L1310.0 1401.1 L1310.5 1398.9 L1311.0 1396.0 L1311.5 1392.5 L1312.1 1388.6 L1312.6 1384.5 L1313.1 1380.4 L1313.7 1376.5 L1314.2 1373.0 L1314.7 1370.1 L1315.2 1367.9 L1315.8 1366.5 L1316.3 1366.1 L1316.8 1366.5 L1317.3 1367.9 L1317.8 1370.1 L1318.3 1373.0 L1318.8 1376.5 L1319.3 1380.4 L1319.8 1384.5 L1320.3 1388.6 L1320.8 1392.5 L1321.3 1396.0 L1321.8 1398.9 L1322.3 1401.1 L1322.8 1402.5 L1323.3 1402.9 L1323.8 1402.2 L1324.4 1400.3 L1324.9 1397.1 L1325.4 1392.9 L1325.9 1387.9 L1326.5 1382.3 L1327.0 1376.4 L1327.5 1370.5 L1328.1 1364.9 L1328.6 1359.9 L1329.1 1355.7 L1329.6 1352.6 L1330.2 1350.6 L1330.7 1350.0 L1331.2 1350.6 L1331.8 1352.6 L1332.3 1355.7 L1332.8 1359.9 L1333.3 1364.9 L1333.9 1370.4 L1334.4 1376.3 L1334.9 1382.1 L1335.5 1387.7 L1336.0 1392.7 L1336.5 1396.9 L1337.0 1400.0 L1337.6 1401.9 L1338.1 1402.6 L1338.6 1401.8 L1339.2 1399.3 L1339.7 1395.4 L1340.2 1390.1 L1340.7 1383.8 L1341.3 1376.8 L1341.8 1369.5 L1342.3 1362.1 L1342.9 1355.1 L1343.4 1348.8 L1343.9 1343.6 L1344.4 1339.6 L1345.0 1337.2 L1345.5 1336.3 L1346.0 1337.2 L1346.6 1339.6 L1347.1 1343.6 L1347.6 1348.8 L1348.1 1355.1 L1348.7 1362.1 L1349.2 1369.5 L1349.7 1376.8 L1350.3 1383.8 L1350.8 1390.1 L1351.3 1395.4 L1351.8 1399.3 L1352.4 1401.8 L1352.9 1402.6 L1353.4 1401.4 L1354.0 1397.7 L1354.5 1391.8 L1355.0 1383.9 L1355.5 1374.4 L1356.1 1363.9 L1356.6 1352.9 L1357.1 1341.8 L1357.7 1331.3 L1358.2 1321.9 L1358.7 1314.0 L1359.2 1308.1 L1359.8 1304.4 L1360.3 1303.1 L1360.8 1304.4 L1361.4 1308.0 L1361.9 1313.8 L1362.4 1321.6 L1362.9 1330.9 L1363.5 1341.3 L1364.0 1352.2 L1364.5 1363.2 L1365.1 1373.6 L1365.6 1382.9 L1366.1 1390.6 L1366.6 1396.5 L1367.2 1400.1 L1367.7 1401.4 L1368.2 1399.7 L1368.7 1394.6 L1369.2 1386.5 L1369.7 1375.8 L1370.2 1362.9 L1370.7 1348.5 L1371.2 1333.4 L1371.7 1318.3 L1372.2 1303.9 L1372.7 1291.1 L1373.2 1280.3 L1373.7 1272.2 L1374.2 1267.2 L1374.7 1265.5 L1375.2 1267.2 L1375.8 1272.1 L1376.3 1280.2 L1376.8 1290.9 L1377.3 1303.7 L1377.9 1317.9 L1378.4 1332.9 L1378.9 1347.9 L1379.5 1362.2 L1380.0 1375.0 L1380.5 1385.7 L1381.0 1393.7 L1381.6 1398.7 L1382.1 1400.4 L1382.6 1398.4 L1383.1 1392.4 L1383.6 1382.8 L1384.1 1370.1 L1384.6 1354.9 L1385.1 1337.9 L1385.7 1320.0 L1386.2 1302.2 L1386.7 1285.2 L1387.2 1269.9 L1387.7 1257.2 L1388.2 1247.7 L1388.7 1241.7 L1389.2 1239.7 L1389.7 1241.2 L1390.2 1245.8 L1390.7 1253.3 L1391.2 1263.3 L1391.7 1275.5 L1392.2 1289.4 L1392.7 1304.5 L1393.2 1320.2 L1393.8 1335.9 L1394.3 1351.0 L1394.8 1365.0 L1395.3 1377.2 L1395.8 1387.2 L1396.3 1394.6 L1396.8 1399.2 L1397.3 1400.7 L1397.8 1398.4 L1398.4 1391.3 L1398.9 1380.0 L1399.4 1364.9 L1399.9 1346.9 L1400.5 1326.8 L1401.0 1305.7 L1401.5 1284.5 L1402.1 1264.4 L1402.6 1246.4 L1403.1 1231.3 L1403.6 1220.0 L1404.2 1213.0 L1404.7 1210.6 L1405.2 1213.0 L1405.8 1219.9 L1406.3 1231.1 L1406.8 1246.1 L1407.3 1263.9 L1407.9 1283.9 L1408.4 1304.8 L1408.9 1325.8 L1409.5 1345.7 L1410.0 1363.6 L1410.5 1378.5 L1411.0 1389.7 L1411.6 1396.7 L1412.1 1399.1 L1412.6 1395.9 L1413.2 1386.7 L1413.7 1371.9 L1414.2 1352.2 L1414.7 1328.5 L1415.3 1302.2 L1415.8 1274.5 L1416.3 1246.8 L1416.9 1220.4 L1417.4 1196.8 L1417.9 1177.1 L1418.4 1162.2 L1419.0 1153.0 L1419.5 1149.9 L1420.0 1153.0 L1420.6 1162.2 L1421.1 1176.9 L1421.6 1196.5 L1422.1 1220.0 L1422.7 1246.2 L1423.2 1273.8 L1423.7 1301.3 L1424.3 1327.5 L1424.8 1351.0 L1425.3 1370.6 L1425.8 1385.4 L1426.4 1394.5 L1426.9 1397.6 L1427.4 1394.3 L1428.0 1384.6 L1428.5 1368.9 L1429.0 1348.1 L1429.5 1323.1 L1430.1 1295.3 L1430.6 1266.0 L1431.1 1236.7 L1431.7 1208.9 L1432.2 1184.0 L1432.7 1163.1 L1433.2 1147.4 L1433.8 1137.7 L1434.3 1134.4 L1434.8 1137.3 L1435.3 1145.7 L1435.9 1159.4 L1436.4 1177.7 L1436.9 1199.8 L1437.4 1224.8 L1437.9 1251.6 L1438.5 1278.9 L1439.0 1305.7 L1439.5 1330.7 L1440.0 1352.8 L1440.5 1371.1 L1441.1 1384.8 L1441.6 1393.2 L1442.1 1396.1 L1442.6 1391.8 L1443.1 1379.1 L1443.7 1358.7 L1444.2 1331.6 L1444.7 1299.1 L1445.2 1262.9 L1445.8 1224.8 L1446.3 1186.7 L1446.8 1150.5 L1447.3 1118.1 L1447.8 1090.9 L1448.4 1070.5 L1448.9 1057.9 L1449.4 1053.6 L1449.9 1056.8 L1450.4 1066.5 L1450.9 1082.2 L1451.4 1103.3 L1451.9 1129.1 L1452.4 1158.4 L1452.9 1190.3 L1453.5 1223.4 L1454.0 1256.6 L1454.5 1288.4 L1455.0 1317.8 L1455.5 1343.6 L1456.0 1364.7 L1456.5 1380.4 L1457.0 1390.0 L1457.5 1393.3 L1458.0 1388.4 L1458.5 1374.1 L1459.1 1350.9 L1459.6 1320.1 L1460.1 1283.2 L1460.6 1242.1 L1461.2 1198.8 L1461.7 1155.5 L1462.2 1114.4 L1462.7 1077.6 L1463.2 1046.8 L1463.8 1023.6 L1464.3 1009.2 L1464.8 1004.3 L1465.3 1008.5 L1465.8 1021.0 L1466.3 1041.2 L1466.8 1068.2 L1467.3 1100.8 L1467.8 1137.6 L1468.3 1177.1 L1468.8 1217.4 L1469.3 1256.9 L1469.8 1293.7 L1470.3 1326.4 L1470.8 1353.4 L1471.3 1373.5 L1471.8 1386.0 L1472.3 1390.2 L1472.8 1386.1 L1473.3 1373.9 L1473.8 1354.0 L1474.3 1327.3 L1474.8 1294.7 L1475.3 1257.6 L1475.8 1217.3 L1476.3 1175.4 L1476.9 1133.5 L1477.4 1093.2 L1477.9 1056.1 L1478.4 1023.5 L1478.9 996.8 L1479.4 977.0 L1479.9 964.7 L1480.4 960.6 L1480.9 965.3 L1481.4 979.0 L1482.0 1001.3 L1482.5 1031.2 L1483.0 1067.2 L1483.5 1108.0 L1484.0 1151.6 L1484.6 1196.2 L1485.1 1239.8 L1485.6 1280.5 L1486.1 1316.6 L1486.6 1346.4 L1487.2 1368.7 L1487.7 1382.5 L1488.2 1387.1 L1488.7 1381.4 L1489.2 1364.3 L1489.7 1336.7 L1490.3 1299.8 L1490.8 1255.2 L1491.3 1204.9 L1491.8 1150.9 L1492.3 1095.8 L1492.8 1041.8 L1493.3 991.5 L1493.8 946.8 L1494.4 910.0 L1494.9 882.4 L1495.4 865.3 L1495.9 859.6 L1496.4 865.3 L1496.9 882.2 L1497.4 909.5 L1497.9 946.1 L1498.4 990.4 L1498.9 1040.3 L1499.4 1093.8 L1499.9 1148.5 L1500.4 1202.0 L1500.9 1252.0 L1501.4 1296.2 L1501.9 1332.8 L1502.4 1360.2 L1502.9 1377.1 L1503.4 1382.8 L1503.9 1377.0 L1504.5 1359.8 L1505.0 1332.0 L1505.5 1294.8 L1506.0 1249.8 L1506.6 1199.0 L1507.1 1144.6 L1507.6 1088.9 L1508.1 1034.5 L1508.7 983.7 L1509.2 938.7 L1509.7 901.5 L1510.2 873.7 L1510.8 856.5 L1511.3 850.7 L1511.8 856.5 L1512.3 873.7 L1512.8 901.5 L1513.3 938.7 L1513.8 983.7 L1514.3 1034.5 L1514.8 1088.9 L1515.3 1144.6 L1515.8 1199.0 L1516.3 1249.8 L1516.8 1294.8 L1517.3 1332.0 L1517.8 1359.8 L1518.3 1377.0 L1518.8 1382.8 L1519.3 1377.2 L1519.8 1360.7 L1520.4 1333.8 L1520.9 1297.6 L1521.4 1253.6 L1522.0 1203.3 L1522.5 1148.8 L1523.0 1092.1 L1523.5 1035.4 L1524.0 980.9 L1524.6 930.6 L1525.1 886.6 L1525.6 850.4 L1526.2 823.5 L1526.7 807.0 L1527.2 801.4 L1527.7 807.7 L1528.2 826.4 L1528.7 856.7 L1529.2 897.1 L1529.7 946.1 L1530.2 1001.3 L1530.7 1060.5 L1531.2 1121.0 L1531.7 1180.1 L1532.2 1235.4 L1532.7 1284.3 L1533.2 1324.8 L1533.7 1355.0 L1534.2 1373.7 L1534.7 1380.1 L1535.2 1374.4 L1535.7 1357.5 L1536.3 1330.0 L1536.8 1293.1 L1537.3 1248.1 L1537.8 1196.8 L1538.3 1141.1 L1538.8 1083.2 L1539.4 1025.3 L1539.9 969.6 L1540.4 918.2 L1540.9 873.3 L1541.4 836.3 L1542.0 808.9 L1542.5 792.0 L1543.0 786.3 L1543.5 792.8 L1544.0 812.0 L1544.5 843.0 L1545.0 884.5 L1545.5 934.6 L1546.0 991.3 L1546.5 1052.0 L1547.0 1114.0 L1547.5 1174.7 L1548.0 1231.3 L1548.5 1281.5 L1549.0 1323.0 L1549.5 1354.0 L1550.0 1373.2 L1550.5 1379.7 L1551.0 1374.4 L1551.5 1358.6 L1552.1 1333.1 L1552.6 1298.7 L1553.1 1256.8 L1553.7 1209.0 L1554.2 1157.2 L1554.7 1103.2 L1555.2 1049.3 L1555.8 997.5 L1556.3 949.7 L1556.8 907.8 L1557.3 873.4 L1557.9 847.9 L1558.4 832.1 L1558.9 826.8 L1559.4 832.9 L1559.9 850.9 L1560.4 880.0 L1561.0 919.0 L1561.5 966.1 L1562.0 1019.3 L1562.5 1076.3 L1563.0 1134.5 L1563.5 1191.5 L1564.0 1244.7 L1564.5 1291.8 L1565.1 1330.8 L1565.6 1359.9 L1566.1 1377.9 L1566.6 1384.0 L1567.1 1379.4 L1567.6 1365.8 L1568.1 1343.7 L1568.6 1313.7 L1569.1 1277.0 L1569.6 1234.7 L1570.1 1188.3 L1570.6 1139.4 L1571.1 1089.7 L1571.6 1040.8 L1572.1 994.5 L1572.6 952.2 L1573.1 915.5 L1573.6 885.5 L1574.1 863.3 L1574.6 849.7 L1575.1 845.1 L1575.6 851.0 L1576.1 868.5 L1576.7 896.7 L1577.2 934.5 L1577.7 980.2 L1578.2 1031.7 L1578.7 1087.0 L1579.3 1143.4 L1579.8 1198.7 L1580.3 1250.2 L1580.8 1295.9 L1581.3 1333.7 L1581.9 1361.9 L1582.4 1379.4 L1582.9 1385.3 L1583.4 1380.5 L1583.9 1366.4 L1584.4 1343.5 L1584.9 1312.6 L1585.4 1275.0 L1585.9 1232.1 L1586.4 1185.6 L1586.9 1137.2 L1587.4 1088.8 L1587.9 1042.3 L1588.4 999.4 L1588.9 961.8 L1589.4 930.9 L1589.9 908.0 L1590.4 893.9 L1590.9 889.1 L1591.4 894.6 L1592.0 910.6 L1592.5 936.7 L1593.0 971.5 L1593.5 1013.6 L1594.1 1061.2 L1594.6 1112.1 L1595.1 1164.1 L1595.6 1215.1 L1596.2 1262.6 L1596.7 1304.7 L1597.2 1339.6 L1597.7 1365.6 L1598.3 1381.7 L1598.8 1387.1 L1599.3 1382.8 L1599.8 1370.0 L1600.3 1349.3 L1600.8 1321.3 L1601.3 1287.3 L1601.8 1248.4 L1602.3 1206.3 L1602.8 1162.4 L1603.3 1118.6 L1603.8 1076.4 L1604.3 1037.6 L1604.8 1003.6 L1605.3 975.6 L1605.8 954.8 L1606.3 942.1 L1606.8 937.7 L1607.3 941.6 L1607.8 953.0 L1608.3 971.5 L1608.8 996.6 L1609.3 1027.4 L1609.8 1062.8 L1610.3 1101.6 L1610.8 1142.5 L1611.3 1184.2 L1611.8 1225.1 L1612.3 1263.9 L1612.8 1299.3 L1613.3 1330.1 L1613.8 1355.2 L1614.3 1373.7 L1614.8 1385.1 L1615.3 1389.0 L1615.8 1385.0 L1616.3 1373.2 L1616.8 1354.0 L1617.3 1328.2 L1617.8 1296.7 L1618.3 1260.8 L1618.8 1221.8 L1619.3 1181.3 L1619.8 1140.8 L1620.3 1101.9 L1620.8 1066.0 L1621.3 1034.5 L1621.8 1008.7 L1622.3 989.5 L1622.8 977.7 L1623.3 973.7 L1623.8 977.7 L1624.3 989.6 L1624.8 1008.9 L1625.3 1034.9 L1625.9 1066.5 L1626.4 1102.6 L1626.9 1141.8 L1627.4 1182.6 L1627.9 1223.3 L1628.4 1262.5 L1628.9 1298.6 L1629.5 1330.3 L1630.0 1356.2 L1630.5 1375.6 L1631.0 1387.4 L1631.5 1391.5 L1632.0 1387.3 L1632.5 1375.2 L1633.0 1355.5 L1633.5 1329.2 L1634.0 1297.3 L1634.5 1261.4 L1635.0 1222.9 L1635.6 1183.5 L1636.1 1145.1 L1636.6 1109.1 L1637.1 1077.3 L1637.6 1050.9 L1638.1 1031.3 L1638.6 1019.1 L1639.1 1015.0 L1639.6 1018.2 L1640.1 1027.8 L1640.6 1043.4 L1641.1 1064.4 L1641.6 1090.3 L1642.1 1120.0 L1642.6 1152.6 L1643.1 1187.0 L1643.6 1221.9 L1644.1 1256.3 L1644.6 1288.9 L1645.1 1318.6 L1645.6 1344.5 L1646.1 1365.6 L1646.6 1381.1 L1647.1 1390.7 L1647.6 1393.9 L1648.1 1390.8 L1648.6 1381.4 L1649.2 1366.2 L1649.7 1345.9 L1650.2 1321.4 L1650.7 1293.7 L1651.2 1264.0 L1651.8 1233.7 L1652.3 1204.0 L1652.8 1176.3 L1653.3 1151.7 L1653.8 1131.5 L1654.4 1116.3 L1654.9 1106.9 L1655.4 1103.7 L1655.9 1106.2 L1656.4 1113.6 L1656.9 1125.6 L1657.4 1141.9 L1657.9 1161.8 L1658.4 1184.8 L1658.9 1209.9 L1659.4 1236.4 L1660.0 1263.4 L1660.5 1289.9 L1661.0 1315.1 L1661.5 1338.0 L1662.0 1357.9 L1662.5 1374.2 L1663.0 1386.2 L1663.5 1393.6 L1664.0 1396.1 L1664.5 1394.0 L1665.0 1387.7 L1665.6 1377.5 L1666.1 1363.6 L1666.6 1346.6 L1667.1 1327.1 L1667.6 1305.7 L1668.1 1283.1 L1668.7 1260.1 L1669.2 1241.1 L1669.7 1220.3 L1670.2 1196.4 L1670.7 1180.5 L1671.2 1169.8 L1671.8 1160.5 L1672.3 1149.4 L1672.8 1147.1 L1673.3 1149.8 L1673.8 1157.9 L1674.3 1171.0 L1674.8 1188.6 L1675.3 1209.8 L1675.8 1233.7 L1676.3 1259.4 L1676.8 1285.6 L1677.3 1311.2 L1677.8 1335.2 L1678.3 1356.4 L1678.8 1373.9 L1679.3 1387.0 L1679.8 1395.1 L1680.3 1397.8 L1680.8 1395.7 L1681.4 1389.3 L1681.9 1378.9 L1682.4 1365.0 L1682.9 1348.2 L1683.5 1329.3 L1684.0 1309.0 L1684.5 1288.3 L1685.0 1268.0 L1685.6 1249.0 L1686.1 1232.3 L1686.6 1218.4 L1687.1 1208.1 L1687.7 1199.3 L1688.2 1200.8 L1688.7 1211.1 L1689.2 1210.2 L1689.7 1205.9 L1690.2 1216.7 L1690.7 1237.3 L1691.2 1252.9 L1691.7 1268.6 L1692.2 1289.4 L1692.8 1312.6 L1693.3 1328.4 L1693.8 1344.1 L1694.3 1359.8 L1694.8 1373.4 L1695.3 1384.5 L1695.8 1392.8 L1696.3 1397.8 L1696.8 1399.5 L1697.3 1398.5 L1697.8 1395.4 L1698.4 1390.4 L1698.9 1383.5 L1699.4 1375.1 L1699.9 1365.4 L1700.5 1354.6 L1701.0 1343.1 L1701.5 1331.2 L1702.0 1316.1 L1702.5 1302.8 L1703.1 1291.7 L1703.6 1279.5 L1704.1 1274.0 L1704.6 1271.8 L1705.2 1267.0 L1705.7 1264.0 L1706.2 1262.9 L1706.7 1264.4 L1707.2 1268.9 L1707.7 1276.1 L1708.2 1285.7 L1708.7 1297.4 L1709.2 1310.5 L1709.7 1324.6 L1710.2 1339.0 L1710.7 1353.1 L1711.2 1366.3 L1711.7 1377.9 L1712.2 1387.6 L1712.7 1394.8 L1713.2 1399.2 L1713.7 1400.7 L1714.2 1400.0 L1714.7 1397.7 L1715.3 1393.9 L1715.8 1388.9 L1716.3 1382.6 L1716.8 1375.4 L1717.4 1367.4 L1717.9 1358.8 L1718.4 1350.0 L1718.9 1341.2 L1719.4 1332.7 L1720.0 1323.4 L1720.5 1319.7 L1721.0 1309.6 L1721.5 1303.4 L1722.1 1306.3 L1722.6 1303.6 L1723.1 1299.9 L1723.6 1304.1 L1724.1 1306.5 L1724.6 1309.1 L1725.1 1316.1 L1725.6 1324.7 L1726.1 1334.3 L1726.6 1344.7 L1727.1 1355.3 L1727.6 1365.7 L1728.1 1375.4 L1728.6 1384.0 L1729.1 1391.1 L1729.6 1396.4 L1730.1 1399.6 L1730.6 1400.7 L1731.1 1399.9 L1731.6 1397.4 L1732.2 1393.3 L1732.7 1387.9 L1733.2 1381.5 L1733.7 1374.3 L1734.2 1366.7 L1734.8 1359.1 L1735.3 1351.9 L1735.8 1345.4 L1736.3 1340.0 L1736.9 1336.0 L1737.4 1333.5 L1737.9 1332.6 L1738.4 1333.1 L1738.9 1332.6 L1739.4 1331.6 L1739.9 1338.3 L1740.4 1346.5 L1740.9 1353.1 L1741.4 1354.9 L1741.9 1357.4 L1742.4 1364.2 L1743.0 1369.8 L1743.5 1375.4 L1744.0 1380.8 L1744.5 1385.8 L1745.0 1390.3 L1745.5 1394.1 L1746.0 1397.2 L1746.5 1399.5 L1747.0 1400.9 L1747.5 1401.4 L1748.0 1401.0 L1748.5 1400.0 L1749.1 1398.4 L1749.6 1396.2 L1750.1 1393.5 L1750.6 1390.5 L1751.1 1387.2 L1751.7 1383.7 L1752.2 1380.3 L1752.7 1377.0 L1753.2 1373.9 L1753.7 1371.2 L1754.2 1369.0 L1754.8 1367.4 L1755.3 1366.4 L1755.8 1366.1 L1756.3 1366.4 L1756.8 1367.3 L1757.3 1368.7 L1757.8 1370.7 L1758.3 1373.2 L1758.8 1376.0 L1759.3 1379.1 L1759.8 1382.4 L1760.4 1385.7 L1760.9 1388.9 L1761.4 1392.0 L1761.9 1394.8 L1762.4 1397.3 L1762.9 1399.3 L1763.4 1400.8 L1763.9 1401.7 L1764.4 1402.0 L1764.9 1401.8 L1765.5 1401.4 L1766.0 1400.6 L1766.5 1399.6 L1767.0 1398.4 L1767.5 1397.0 L1768.1 1395.5 L1768.6 1393.9 L1769.1 1392.4 L1769.7 1390.8 L1770.2 1389.5 L1770.7 1387.8 L1771.2 1387.9 L1771.8 1387.1 L1772.3 1386.7 L1772.8 1386.5 L1773.3 1385.4 L1773.8 1385.4 L1774.3 1385.7 L1774.8 1385.7 L1775.3 1388.0 L1775.8 1390.5 L1776.3 1392.0 L1776.8 1393.5 L1777.4 1395.0 L1777.9 1396.5 L1778.4 1398.0 L1778.9 1399.3 L1779.4 1400.4 L1779.9 1401.4 L1780.4 1402.0 L1780.9 1402.5 L1781.4 1402.6 L1781.9 1402.5 L1782.4 1402.4 L1783.0 1402.1 L1783.5 1401.8 L1784.0 1401.3 L1784.5 1400.8 L1785.0 1400.3 L1785.5 1399.7 L1786.1 1399.0 L1786.6 1398.4 L1787.1 1397.8 L1787.6 1397.3 L1788.1 1396.6 L1788.6 1396.1 L1789.2 1396.7 L1789.7 1396.3 L1790.2 1395.1 L1790.7 1394.9 L1791.2 1396.0 L1791.7 1397.0 L1792.2 1396.3 L1792.7 1395.9 L1793.2 1397.6 L1793.7 1398.4 L1794.2 1398.9 L1794.8 1399.8 L1795.3 1400.5 L1795.8 1401.3 L1796.3 1401.9 L1796.8 1402.5 L1797.3 1402.9 L1797.8 1403.1 L1798.3 1403.2 L1798.8 1403.2 L1799.3 1403.1 L1799.8 1402.9 L1800.4 1402.7 L1800.9 1402.5 L1801.4 1402.2 L1801.9 1401.9 L1802.4 1401.5 L1802.9 1401.1 L1803.5 1400.8 L1804.0 1400.4 L1804.5 1400.1 L1805.0 1399.8 L1805.5 1399.6 L1806.0 1399.4 L1806.6 1399.2 L1807.1 1399.1 L1807.6 1399.1 L1808.1 1399.1 L1808.6 1399.2 L1809.1 1399.4 L1809.6 1399.7 L1810.1 1400.0 L1810.6 1400.4 L1811.1 1400.8 L1811.6 1401.2 L1812.2 1401.7 L1812.7 1402.1 L1813.2 1402.5 L1813.7 1402.9 L1814.2 1403.2 L1814.7 1403.5 L1815.2 1403.7 L1815.7 1403.8 L1816.2 1403.8 L1816.7 1403.8 L1817.2 1403.8 L1817.8 1403.7 L1818.3 1403.6 L1818.8 1403.5 L1819.3 1403.4 L1819.9 1403.2 L1820.4 1403.1 L1820.9 1402.9 L1821.4 1402.8 L1821.9 1402.6 L1822.5 1402.4 L1823.0 1402.3 L1823.5 1402.2 L1824.0 1402.1 L1824.6 1402.0 L1825.1 1402.0 L1825.6 1402.0 L1826.1 1402.0 L1826.6 1402.1 L1827.1 1402.2 L1827.6 1402.4 L1828.1 1402.6 L1828.6 1402.8 L1829.1 1403.0 L1829.6 1403.2 L1830.1 1403.4 L1830.6 1403.6 L1831.1 1403.7 L1831.6 1403.8 L1832.1 1403.8 L1834.1 1403.6 L1838.1 1403.4 L1842.1 1403.7 L1846.1 1403.5 L1850.1 1403.4 L1854.1 1403.7 L1858.1 1404.3 L1862.1 1404.1 L1866.1 1404.1 L1870.1 1403.6 L1874.1 1403.9 L1878.1 1403.6 L1882.1 1403.5 L1886.1 1403.4 L1890.1 1403.6 L1894.1 1404.3 L1898.1 1404.2 L1902.1 1404.1 L1906.1 1404.1 L1910.1 1403.5 L1914.1 1403.7 L1918.1 1404.0 L1922.1 1404.1 L1926.1 1404.2 L1930.1 1404.2" stroke="#000" stroke-width="3.5" fill="none" stroke-linejoin="round" stroke-linecap="round"/>
<rect x="1178.0" y="786.3" width="772.0" height="619.4" fill="none" stroke="#000" stroke-width="3"/>
<path d="M1178.0 1405.7v13.0M1226.2 1405.7v6.5M1226.2 786.3v6.0M1274.5 1405.7v13.0M1274.5 786.3v12.0M1322.8 1405.7v6.5M1322.8 786.3v6.0M1371.0 1405.7v13.0M1371.0 786.3v12.0M1419.2 1405.7v6.5M1419.2 786.3v6.0M1467.5 1405.7v13.0M1467.5 786.3v12.0M1515.8 1405.7v6.5M1515.8 786.3v6.0M1564.0 1405.7v13.0M1564.0 786.3v12.0M1612.2 1405.7v6.5M1612.2 786.3v6.0M1660.5 1405.7v13.0M1660.5 786.3v12.0M1708.8 1405.7v6.5M1708.8 786.3v6.0M1757.0 1405.7v13.0M1757.0 786.3v12.0M1805.2 1405.7v6.5M1805.2 786.3v6.0M1853.5 1405.7v13.0M1853.5 786.3v12.0M1901.8 1405.7v6.5M1901.8 786.3v6.0M1950.0 1405.7v13.0M1178.0 1405.7h-13.0M1178.0 1343.8h-6.5M1950.0 1343.8h-6.0M1178.0 1281.8h-13.0M1950.0 1281.8h-12.0M1178.0 1219.9h-6.5M1950.0 1219.9h-6.0M1178.0 1157.9h-13.0M1950.0 1157.9h-12.0M1178.0 1096.0h-6.5M1950.0 1096.0h-6.0M1178.0 1034.1h-13.0M1950.0 1034.1h-12.0M1178.0 972.1h-6.5M1950.0 972.1h-6.0M1178.0 910.2h-13.0M1950.0 910.2h-12.0M1178.0 848.2h-6.5M1950.0 848.2h-6.0M1178.0 786.3h-13.0" stroke="#000" stroke-width="3" fill="none"/>
<text x="1178.0" y="1447.0" font-family="Liberation Sans, Arial, sans-serif" stroke="#000" stroke-width="0.5" font-size="26.0" text-anchor="middle" fill="#000">1225</text>
<text x="1274.5" y="1447.0" font-family="Liberation Sans, Arial, sans-serif" stroke="#000" stroke-width="0.5" font-size="26.0" text-anchor="middle" fill="#000">1250</text>
<text x="1371.0" y="1447.0" font-family="Liberation Sans, Arial, sans-serif" stroke="#000" stroke-width="0.5" font-size="26.0" text-anchor="middle" fill="#000">1275</text>
<text x="1467.5" y="1447.0" font-family="Liberation Sans, Arial, sans-serif" stroke="#000" stroke-width="0.5" font-size="26.0" text-anchor="middle" fill="#000">1300</text>
<text x="1564.0" y="1447.0" font-family="Liberation Sans, Arial, sans-serif" stroke="#000" stroke-width="0.5" font-size="26.0" text-anchor="middle" fill="#000">1325</text>
<text x="1660.5" y="1447.0" font-family="Liberation Sans, Arial, sans-serif" stroke="#000" stroke-width="0.5" font-size="26.0" text-anchor="middle" fill="#000">1350</text>
<text x="1757.0" y="1447.0" font-family="Liberation Sans, Arial, sans-serif" stroke="#000" stroke-width="0.5" font-size="26.0" text-anchor="middle" fill="#000">1375</text>
<text x="1853.5" y="1447.0" font-family="Liberation Sans, Arial, sans-serif" stroke="#000" stroke-width="0.5" font-size="26.0" text-anchor="middle" fill="#000">1400</text>
<text x="1950.0" y="1447.0" font-family="Liberation Sans, Arial, sans-serif" stroke="#000" stroke-width="0.5" font-size="26.0" text-anchor="middle" fill="#000">1425</text>
<text x="1156.7" y="1414.1" font-family="Liberation Sans, Arial, sans-serif" stroke="#000" stroke-width="0.5" font-size="26.0" text-anchor="end" fill="#000">0,0</text>
<text x="1156.7" y="1290.2" font-family="Liberation Sans, Arial, sans-serif" stroke="#000" stroke-width="0.5" font-size="26.0" text-anchor="end" fill="#000">0,2</text>
<text x="1156.7" y="1166.3" font-family="Liberation Sans, Arial, sans-serif" stroke="#000" stroke-width="0.5" font-size="26.0" text-anchor="end" fill="#000">0,4</text>
<text x="1156.7" y="1042.5" font-family="Liberation Sans, Arial, sans-serif" stroke="#000" stroke-width="0.5" font-size="26.0" text-anchor="end" fill="#000">0,6</text>
<text x="1156.7" y="918.6" font-family="Liberation Sans, Arial, sans-serif" stroke="#000" stroke-width="0.5" font-size="26.0" text-anchor="end" fill="#000">0,8</text>
<text x="1156.7" y="793.2" font-family="Liberation Sans, Arial, sans-serif" stroke="#000" stroke-width="0.5" font-size="26.0" text-anchor="end" fill="#000">1,0</text>
<text x="1563.3" y="1496.2" font-family="Liberation Sans, Arial, sans-serif" stroke="#000" stroke-width="0.5" font-size="32.1" text-anchor="middle" fill="#000">Wavelength [nm]</text>
<text transform="translate(1083.3 1077.0) rotate(-90)" font-family="Liberation Sans, Arial, sans-serif" stroke="#000" stroke-width="0.5" font-size="32.1" text-anchor="middle" fill="#000">Normalized intensity [a.u.]</text>
<rect x="1788.0" y="786.3" width="162.0" height="44.0" fill="#fff" stroke="#000" stroke-width="2.6"/>
<text x="1946.4" y="819.7" font-family="Liberation Sans, Arial, sans-serif" stroke="#000" stroke-width="0.5" font-size="32.6" text-anchor="end" fill="#000">d =200 µm</text>
<text x="1004.0" y="805.6" font-family="Liberation Serif, Times New Roman, serif" stroke="#000" stroke-width="0.7" stroke-linejoin="round" font-size="58" fill="#000">d)</text>
</g>
</svg>
</body></html>
